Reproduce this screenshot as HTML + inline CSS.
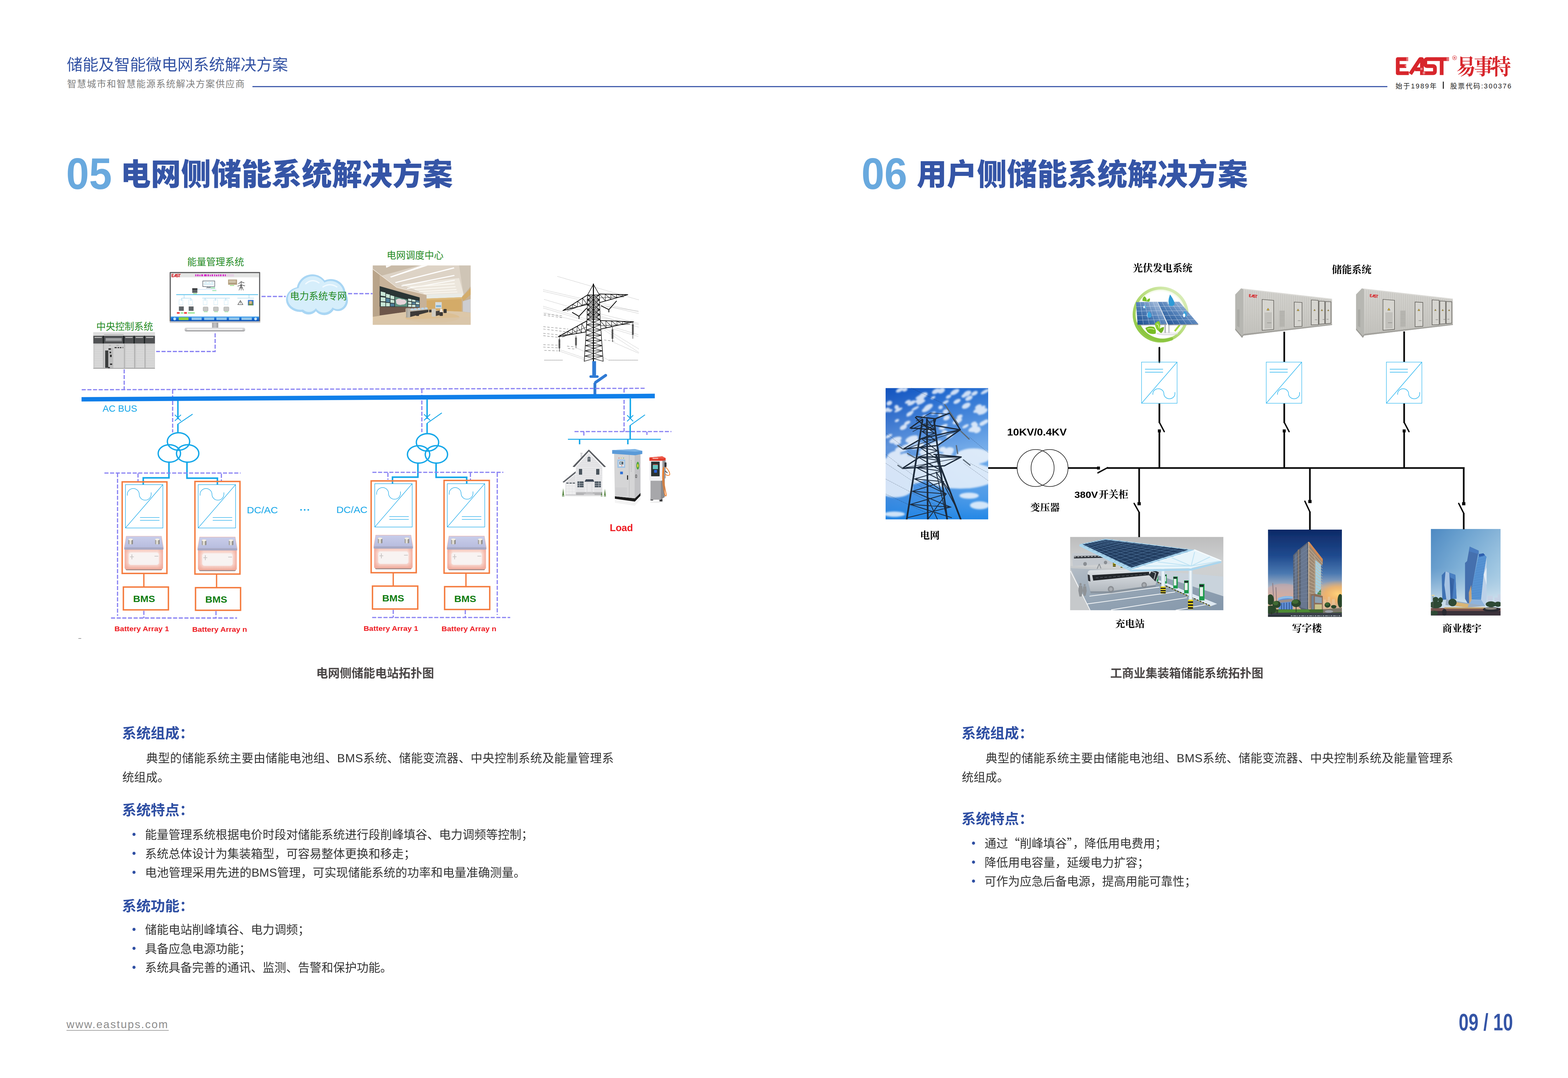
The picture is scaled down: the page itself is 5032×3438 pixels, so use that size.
<!DOCTYPE html>
<html lang="zh-CN"><head><meta charset="utf-8"><title>储能及智能微电网系统解决方案</title><style>html,body{margin:0;padding:0;background:#fff}
body{width:5032px;height:3438px;position:relative;overflow:hidden;font-family:"Liberation Sans",sans-serif}
#art{position:absolute;left:0;top:0}
.s{font-family:"Liberation Sans","Noto Sans CJK SC",sans-serif}
.sf{font-family:"Liberation Serif","Noto Serif CJK SC",serif}
.q{font-family:"Noto Sans CJK SC",sans-serif}
</style></head>
<body>
<svg id="art" width="5032" height="3438" viewBox="0 0 5032 3438">
<defs><linearGradient id="gBody" x1="0" y1="0" x2="0" y2="1"><stop offset="0" stop-color="#f6c3b6"/><stop offset=".25" stop-color="#fbe9e4"/><stop offset=".7" stop-color="#f9e6e1"/><stop offset="1" stop-color="#f0a999"/></linearGradient>
<linearGradient id="gBodyH" x1="0" y1="0" x2="1" y2="0"><stop offset="0" stop-color="#f3a898" stop-opacity=".9"/><stop offset=".14" stop-color="#f3a898" stop-opacity="0"/><stop offset=".86" stop-color="#f3a898" stop-opacity="0"/><stop offset="1" stop-color="#f3a898" stop-opacity=".9"/></linearGradient>
<linearGradient id="gLid" x1="0" y1="0" x2="0" y2="1"><stop offset="0" stop-color="#c9cdea"/><stop offset=".8" stop-color="#b9bedf"/><stop offset="1" stop-color="#a9a9c6"/></linearGradient>
<linearGradient id="gTerm" x1="0" y1="0" x2="1" y2="0"><stop offset="0" stop-color="#8d8a84"/><stop offset=".45" stop-color="#f4f1e8"/><stop offset="1" stop-color="#6f6c66"/></linearGradient>
<g id="bat">
<rect x="4" y="100" width="116" height="9" rx="4" fill="#7a5f5c" opacity=".75"/>
<rect x="1" y="40" width="122" height="66" rx="5" fill="url(#gBody)"/>
<rect x="1" y="40" width="122" height="66" rx="5" fill="url(#gBodyH)"/>
<rect x="14" y="52" width="96" height="40" rx="8" fill="#f7f5f4" opacity=".85"/>
<path d="M6 0H118L124 36V42H0V36z" fill="url(#gLid)" stroke="#f4b4a5" stroke-width="1.2"/>
<rect x="0" y="36" width="124" height="7" rx="2" fill="#a8a9c4"/>
<rect x="13" y="10" width="14" height="16" rx="2" fill="url(#gTerm)"/><ellipse cx="20" cy="10.5" rx="7" ry="3" fill="#f3efe4"/>
<rect x="98" y="10" width="14" height="16" rx="2" fill="url(#gTerm)"/><ellipse cx="105" cy="10.5" rx="7" ry="3" fill="#f3efe4"/>
<path d="M18 66h12M24 58v16M96 64h12" stroke="#c9c5c4" stroke-width="2.4" fill="none"/>
</g>
<linearGradient id="gNeck" x1="0" y1="0" x2="1" y2="0"><stop offset="0" stop-color="#a9a9ab"/><stop offset=".5" stop-color="#c4c4c6"/><stop offset="1" stop-color="#9a9a9c"/></linearGradient>
<linearGradient id="gBase" x1="0" y1="0" x2="0" y2="1"><stop offset="0" stop-color="#dcdcde"/><stop offset=".6" stop-color="#c8c8ca"/><stop offset="1" stop-color="#8e8e90"/></linearGradient>
<linearGradient id="gBar" x1="0" y1="0" x2="0" y2="1"><stop offset="0" stop-color="#3aa0ee"/><stop offset=".5" stop-color="#1667d0"/><stop offset="1" stop-color="#0e4fb0"/></linearGradient>
<filter id="blur4" x="-5%" y="-5%" width="110%" height="110%"><feGaussianBlur stdDeviation="5"/></filter>
<filter id="blur2" x="-5%" y="-5%" width="110%" height="110%"><feGaussianBlur stdDeviation="2.5"/></filter>
<filter id="blur8" x="-10%" y="-10%" width="120%" height="120%"><feGaussianBlur stdDeviation="9"/></filter>
<filter id="blur1" x="-5%" y="-5%" width="110%" height="110%"><feGaussianBlur stdDeviation="1.2"/></filter>
<linearGradient id="gSky1" x1="0" y1="0" x2="1" y2="0.3"><stop offset="0" stop-color="#0f4db8"/><stop offset=".5" stop-color="#2874d6"/><stop offset="1" stop-color="#4590e2"/></linearGradient>
<linearGradient id="gSky1b" x1="0" y1="0" x2="0" y2="1"><stop offset="0" stop-color="#1457c4" stop-opacity=".5"/><stop offset=".45" stop-color="#9cc4f0" stop-opacity=".55"/><stop offset=".72" stop-color="#6fb0ee" stop-opacity=".5"/><stop offset="1" stop-color="#1f86e6" stop-opacity=".9"/></linearGradient>
<linearGradient id="gChgBg" x1="0" y1="0" x2="0" y2="1"><stop offset="0" stop-color="#bdbdbd"/><stop offset=".35" stop-color="#cfd1d2"/><stop offset="1" stop-color="#c9cccd"/></linearGradient>
<linearGradient id="gChgFloor" x1="0" y1="0" x2="1" y2="1"><stop offset="0" stop-color="#b3bcc5"/><stop offset=".5" stop-color="#93a3b3"/><stop offset="1" stop-color="#8497ab"/></linearGradient>
<linearGradient id="gBus" x1="0" y1="0" x2="0" y2="1"><stop offset="0" stop-color="#dfe3e6"/><stop offset=".5" stop-color="#c9ced3"/><stop offset="1" stop-color="#b2b8be"/></linearGradient>
<linearGradient id="gCol" x1="0" y1="0" x2="1" y2="0"><stop offset="0" stop-color="#c9dbe8"/><stop offset=".5" stop-color="#f6fafc"/><stop offset="1" stop-color="#bccfdd"/></linearGradient>
<linearGradient id="gOffSky" x1="0" y1="0" x2="0" y2="1"><stop offset="0" stop-color="#0d2966"/><stop offset=".3" stop-color="#1f4a8e"/><stop offset=".5" stop-color="#4a78b0"/><stop offset=".66" stop-color="#a9b4c4"/><stop offset=".8" stop-color="#d9b9a0"/><stop offset="1" stop-color="#c9a080"/></linearGradient>
<radialGradient id="gSun" cx=".5" cy=".5" r=".5"><stop offset="0" stop-color="#ffd27a"/><stop offset=".5" stop-color="#f7b25e" stop-opacity=".8"/><stop offset="1" stop-color="#f0a050" stop-opacity="0"/></radialGradient>
<linearGradient id="gComSky" x1="0" y1="0" x2="1" y2="0"><stop offset="0" stop-color="#4d89c2"/><stop offset=".5" stop-color="#7aaed6"/><stop offset="1" stop-color="#a6cbe4"/></linearGradient>
<linearGradient id="gComSky2" x1="0" y1="0" x2="0" y2="1"><stop offset="0" stop-color="#4d89c2" stop-opacity=".35"/><stop offset=".45" stop-color="#9cc4e0" stop-opacity=".3"/><stop offset=".85" stop-color="#dbe8f0" stop-opacity=".85"/><stop offset="1" stop-color="#dbe8f0" stop-opacity=".9"/></linearGradient>
<radialGradient id="gPvGlow" cx=".5" cy=".5" r=".5"><stop offset="0" stop-color="#fff"/><stop offset=".8" stop-color="#fff"/><stop offset=".93" stop-color="#e3f2c8"/><stop offset="1" stop-color="#fff" stop-opacity="0"/></radialGradient>
<linearGradient id="gRing" x1="0" y1="1" x2="1" y2="0"><stop offset="0" stop-color="#86c33a"/><stop offset=".5" stop-color="#b7dc7a"/><stop offset="1" stop-color="#e4f2cc"/></linearGradient>
<linearGradient id="gPanel" x1="0" y1="1" x2="1" y2="0"><stop offset="0" stop-color="#17498a"/><stop offset=".45" stop-color="#4f7db6"/><stop offset="1" stop-color="#c9d6ea"/></linearGradient>
<linearGradient id="gCont" x1="0" y1="0" x2="0" y2="1"><stop offset="0" stop-color="#d3d2ce"/><stop offset=".5" stop-color="#cccbc6"/><stop offset="1" stop-color="#c2c1bc"/></linearGradient>
</defs>
<text class="s" x="213" y="223.5" font-size="50.4" fill="#3453a4">储能及智能微电网系统解决方案</text>
<text class="s" x="214" y="277.6" font-size="29.6" letter-spacing="1.95" fill="#808080">智慧城市和智慧能源系统解决方案供应商</text>
<rect x="805" y="274.5" width="3619" height="3.5" fill="#3a55a8"/>
<g transform="translate(4430 160) scale(0.18072)"><g id="east" fill="none" stroke="#d7262c" stroke-width="66" stroke-linejoin="round" stroke-linecap="butt"><path d="M335 158H150V407H345M150 281H300"/><path d="M372 420L545 158H577V440M455 338H577" stroke-linecap="butt"/><path d="M830 158H672Q636 158 636 192V248Q636 281 672 281H770Q806 281 806 314V374Q806 407 770 407H612"/><path d="M826 158H1055M925 158V440"/></g><path d="M300 137h60m-60 14h60m-60 14h60m-60 14h60M275 262h40m-40 13h40m-40 13h40M590 388h44m-44 13h44m-44 13h44M1010 137h60m-60 14h60m-60 14h60m-60 14h60M548 318h40m-40 13h40m-40 13h40" stroke="#fff" stroke-width="5" fill="none"/><rect x="100" y="441" width="900" height="40" fill="#fff"/></g>
<circle cx="4638.2" cy="184.4" r="6.6" fill="none" stroke="#d7262c" stroke-width="1.1"/>
<text class="s" x="4634.9" y="187.9" font-size="9.5" font-weight="bold" fill="#d7262c">R</text>
<text class="sf" transform="translate(4644 237.5) scale(0.9 1)" font-size="69" font-weight="bold" letter-spacing="-6.7" fill="#d7262c">易事特</text>
<text class="s" x="4450" y="282" font-size="21.6" letter-spacing="3" fill="#222">始于1989年</text>
<rect x="4600.8" y="260.3" width="3.2" height="22.8" fill="#222"/>
<text class="s" x="4624.5" y="282" font-size="21.6" letter-spacing="3" fill="#222">股票代码:300376</text>
<text class="s" transform="translate(211 603) scale(0.9298 1)" font-size="141" font-weight="bold" fill="#69a9de">05</text>
<text class="s" x="384.5" y="589.5" font-size="96.3" font-weight="900" fill="#3555a6">电网侧储能系统解决方案</text>
<text class="s" transform="translate(2747 603) scale(0.9298 1)" font-size="141" font-weight="bold" fill="#69a9de">06</text>
<text class="s" x="2923" y="589.5" font-size="96" font-weight="900" fill="#3555a6">用户侧储能系统解决方案</text>
<text class="s" x="212" y="3279" font-size="35" letter-spacing="2.9" fill="#8c8c8c">www.eastups.com</text>
<rect x="212" y="3285.2" width="326" height="1.8" fill="#8c8c8c"/>
<text class="s" x="4651.5" y="3286" font-size="76" font-weight="bold" textLength="173" lengthAdjust="spacingAndGlyphs" fill="#3555a6">09 / 10</text>
<g id="monitor">
<rect x="676" y="1028" width="20" height="20" fill="url(#gNeck)"/>
<rect x="588.6" y="1045" width="193.2" height="12" rx="5" fill="url(#gBase)"/>
<rect x="596" y="1048.5" width="178" height="4" rx="2" fill="#f4f4f4"/>
<rect x="541" y="867.6" width="288.6" height="161.6" rx="1.5" fill="#5a5a5c"/>
<rect x="541" y="1024.5" width="288.6" height="4.7" fill="#c9c9cb"/>
<rect x="544.6" y="871" width="281.6" height="153.5" fill="#fff"/>
<rect x="544.6" y="871" width="281.6" height="13.5" fill="#e4e5e4"/>
<g transform="translate(543.5 869.5) scale(0.031 0.033)"><use href="#east"/></g>
<rect x="620" y="874.2" width="126" height="7.6" fill="#e33bd8" opacity=".12"/>
<path d="M623 875h3v6h-3zm6 0h4v6h-4zm7 1h3v5h-3zm6-1h5v6h-5zm9 0h8v6h-8zm11 0h4v6h-4zm7 1h3v5h-3zm6-1h4v6h-4zm8 0h3v6h-3zm6 1h4v5h-4zm7-1h3v6h-3zm6 0h4v6h-4zm8 0h4v6h-4zm7 0h3v6h-3z" fill="#d21cc6"/>
<rect x="544.600" y="1009.600" width="281.600" height="15" fill="url(#gBar)"/>
<g fill="#8ed13c"><rect x="570" y="1012" width="31" height="9" /></g>
<g fill="#9fd0ee" opacity=".9"><rect x="611" y="1012.500" width="32" height="8"/><rect x="651" y="1012.500" width="32" height="8"/><rect x="690" y="1012.500" width="33" height="8"/><rect x="730" y="1012.500" width="33" height="8"/><rect x="770" y="1012.500" width="33" height="8"/></g>
<circle cx="557" cy="1017" r="4.500" fill="#bfe1f6"/><circle cx="815" cy="1017" r="4.500" fill="#bfe1f6"/>
<path d="M562 939.300H823" stroke="#2fb1e6" stroke-width="1.800"/><path d="M562 941.200H823" stroke="#a5dcf2" stroke-width="1"/>
<path d="M645 950.700H733M757 950.700H810" stroke="#9fd4ee" stroke-width="1.400"/>
<path d="M587 939v12M579 951h30M579 951v8M609 951v8M654 951v8M687 951v8M720 951v8M794 939v12" stroke="#7cc6ea" stroke-width="1.200" fill="none"/>
<g fill="none" stroke="#c4e6f4" stroke-width="1.1"><rect x="571" y="956" width="12" height="16"/><rect x="602" y="956" width="12" height="16"/><rect x="648" y="956" width="12" height="16"/><rect x="682" y="956" width="12" height="16"/><rect x="715" y="956" width="12" height="16"/></g>
<rect x="646.700" y="896" width="38" height="18" fill="#fff" stroke="#4d5a66" stroke-width="1.600"/><path d="M650 906h31M652 901h8m4 0h6m3 0h7" stroke="#59b7d8" stroke-width="1.200"/><path d="M662 914v3h8v-3M657 918h18" stroke="#67737e" stroke-width="1.500" fill="none"/>
<path d="M630 923H690" stroke="#9fc7f0" stroke-width="1.200"/><rect x="672" y="917" width="14" height="2.500" fill="#68d38b"/><rect x="677" y="926" width="13" height="2" fill="#7ddc9a"/>
<rect x="727.400" y="891.500" width="28.400" height="16.500" fill="#b39f7f"/><rect x="730" y="894" width="22" height="8" fill="#cfc3ab"/><rect x="733" y="909.500" width="14" height="2" fill="#84da6a"/>
<path d="M769 896v30M760 905l9-6 10 3M758 913l11-5 12 4M762 926l7-18 7 18M764 918h10" stroke="#3c3c3c" stroke-width="1.400" fill="none"/><path d="M756 906l26-4M755 912l28-3" stroke="#999" stroke-width=".8" stroke-dasharray="2 1.500"/>
<rect x="613" y="919.600" width="16.400" height="14.400" fill="#5d6165"/><rect x="613" y="919.600" width="16.400" height="4" fill="#2e3033"/><rect x="616" y="935.500" width="12" height="2" fill="#7ddc6a"/>
<rect x="570.500" y="977.400" width="15.500" height="14" fill="#5f6468"/><rect x="601.700" y="977.400" width="15.600" height="14" fill="#5f6468"/>
<g fill="#c7c8c6" stroke="#9a9b99" stroke-width="1"><rect x="647.800" y="979" width="15.600" height="13" rx="2"/><rect x="680.700" y="979" width="15.500" height="13" rx="2"/><rect x="713.600" y="979" width="16.300" height="13" rx="2"/></g>
<path d="M650 994.500h12m21 0h12m21 0h12" stroke="#77dd77" stroke-width="1.400"/>
<path d="M564 998h9m14 0h9" stroke="#ee3b3b" stroke-width="5"/><path d="M576 998h9m14 0h22" stroke="#7be07b" stroke-width="4" opacity=".8"/>
<path d="M766.500 958.500l8 13h-16z" fill="#fff" stroke="#4a4a4a" stroke-width="1.500"/><path d="M766.500 962v6" stroke="#4a4a4a" stroke-width="1.500"/>
<rect x="790.500" y="956.600" width="18" height="17.400" fill="#3b77d8"/><rect x="792.500" y="962" width="14" height="12" fill="#6a8f4e"/><rect x="795" y="960" width="8" height="9" fill="#d9b48a"/>
</g>
<g transform="translate(285 1050) scale(0.0968)"><g filter="url(#blur4)">
<rect x="130" y="100" width="2030" height="1200" fill="#cdcdcd"/>
<rect x="130" y="100" width="2030" height="120" fill="#dedede"/><rect x="480" y="160" width="650" height="30" fill="#b9b9b9"/>
<rect x="130" y="215" width="2030" height="255" fill="#505153"/>
<g fill="#1f2022"><rect x="440" y="215" width="40" height="255"/><rect x="1110" y="215" width="45" height="255"/><rect x="1455" y="215" width="40" height="255"/><rect x="1795" y="215" width="40" height="255"/></g>
<rect x="530" y="290" width="540" height="110" fill="#8b8d8f"/><rect x="545" y="300" width="510" height="60" fill="#a3a5a6"/>
<g fill="#c9c9c9"><rect x="170" y="255" width="240" height="30"/><rect x="1185" y="255" width="240" height="30"/><rect x="1525" y="255" width="240" height="30"/><rect x="1865" y="255" width="240" height="30"/></g>
<g fill="#d9d9d9"><rect x="175" y="520" width="260" height="740"/><rect x="1200" y="520" width="260" height="740"/><rect x="1540" y="520" width="265" height="740"/><rect x="1870" y="520" width="270" height="740"/></g>
<path d="M155 560H435M155 618H435M155 676H435M155 734H435M155 792H435M155 850H435M155 908H435M155 966H435M155 1024H435M155 1082H435M155 1140H435M155 1198H435M155 1256H435M1170 560H1455M1170 618H1455M1170 676H1455M1170 734H1455M1170 792H1455M1170 850H1455M1170 908H1455M1170 966H1455M1170 1024H1455M1170 1082H1455M1170 1140H1455M1170 1198H1455M1170 1256H1455M1505 560H1795M1505 618H1795M1505 676H1795M1505 734H1795M1505 792H1795M1505 850H1795M1505 908H1795M1505 966H1795M1505 1024H1795M1505 1082H1795M1505 1140H1795M1505 1198H1795M1505 1256H1795M1845 560H2135M1845 618H2135M1845 676H2135M1845 734H2135M1845 792H2135M1845 850H2135M1845 908H2135M1845 966H2135M1845 1024H2135M1845 1082H2135M1845 1140H2135M1845 1198H2135M1845 1256H2135" stroke="#c6c6c6" stroke-width="10" fill="none"/>
<g fill="#a9a9a9"><rect x="455" y="470" width="22" height="830"/><rect x="1140" y="470" width="24" height="830"/><rect x="1480" y="470" width="24" height="830"/><rect x="1820" y="470" width="24" height="830"/></g>
<rect x="480" y="480" width="660" height="810" fill="#cfcfcf"/>
<rect x="800" y="640" width="330" height="640" fill="#d3d3d3"/>
<rect x="520" y="700" width="105" height="570" fill="#3b3c3e"/>
<rect x="625" y="620" width="160" height="660" fill="#bdbdbd"/>
<g fill="#2a2a2c"><rect x="630" y="630" width="80" height="45"/><rect x="665" y="740" width="50" height="50"/><rect x="680" y="840" width="55" height="75"/><rect x="680" y="1130" width="70" height="45"/><rect x="615" y="1245" width="60" height="35"/><rect x="830" y="590" width="70" height="32"/><rect x="930" y="590" width="50" height="32"/><rect x="1005" y="590" width="50" height="32"/><rect x="1095" y="585" width="18" height="38"/></g>
<path d="M640 530h70m180 0h80" stroke="#8f8f8f" stroke-width="14"/>
<rect x="130" y="1280" width="2030" height="22" fill="#9a9a9a"/>
</g></g>
<g id="cloud">
<g fill="#a9d6f4"><ellipse cx="958" cy="955" rx="46" ry="40"/><circle cx="996" cy="925" r="50"/><circle cx="1055" cy="937" r="47"/><ellipse cx="1078" cy="958" rx="31.500" ry="34"/><circle cx="1034" cy="970" r="35"/><circle cx="984" cy="972" r="31"/></g>
<g fill="#d6eefb"><ellipse cx="959" cy="953" rx="41" ry="35"/><circle cx="997" cy="926" r="45"/><circle cx="1054" cy="938" r="42"/><ellipse cx="1076" cy="957" rx="27" ry="29"/><circle cx="1033" cy="966" r="31"/><circle cx="985" cy="968" r="27"/><rect x="950" y="925" width="120" height="50"/></g>
<path d="M975 905q20-18 42-3M1030 915q22-14 44 0" stroke="#f2faff" stroke-width="4" fill="none" stroke-linecap="round"/>
</g>
<g transform="translate(1180 840) scale(0.142)"><g filter="url(#blur4)">
<rect x="62" y="48" width="2196" height="1330" fill="#d8c4a6"/>
<path d="M62 48H2258V720L1270 720L600 560L62 150z" fill="#ddd3c6"/>
<path d="M62 48H1100L62 330z" fill="#c9bba8"/>
<path d="M700 470L2000 330L2100 690L1270 700z" fill="#ece6dc"/>
<path d="M2000 48H2258V700H2100z" fill="#cfc5b6"/>
<path d="M62 130L600 540L1270 705V1010L800 1015L62 1200z" fill="#c7b299"/>
<path d="M62 130L215 250V1180L62 1200z" fill="#b9a48a"/>
<path d="M62 130L600 540L1270 705" stroke="#efe6da" stroke-width="14" fill="none"/>
<g fill="#fff"><path d="M450 298L1160 48H1300L470 318z"/><path d="M560 422L1880 88L1895 112L580 442z"/><path d="M700 498L1890 258L1900 282L710 517z"/><path d="M830 558L1900 368L1905 386L835 574z"/><path d="M355 48H480L365 100z"/></g>
<g fill="#fbf8f2" opacity=".9"><path d="M900 520L1900 440L1900 470L905 545z"/><path d="M1000 575L1920 510V535L1005 598z"/><path d="M1100 625L1940 575V598L1105 646z"/><path d="M1200 665L1960 630V650L1205 684z"/></g>
<path d="M1270 700L2100 680L2060 765L1270 795z" fill="#e9ebe6"/>
<path d="M1270 790L2060 760V1085L1270 1050z" fill="#d4ab68"/>
<path d="M1270 790L2060 760V800L1270 830z" fill="#dcb878"/>
<path d="M2060 760L2258 520V1110L2060 1085z" fill="#c8b294"/>
<path d="M2060 760L2258 560V700L2090 850z" fill="#d3ad6c"/>
<path d="M2085 850L2258 800V1105L2085 1085z" fill="#cdcdd0"/>
<path d="M215 510L1115 765V985L215 975z" fill="#2c3534"/>
<g fill="#c7e6d6"><path d="M240 630L345 655V740L240 725z"/><path d="M240 755L345 770V855L240 850z"/><path d="M240 870L345 878V965L240 965z"/><path d="M358 680L445 700V780L358 765z"/><path d="M358 885L445 890V965H358z"/><path d="M458 715L545 738V810L458 795z"/><path d="M458 810L545 825V890L458 882z"/></g>
<g fill="#4f7f9a"><path d="M358 780L445 795V875L358 870z"/><path d="M458 900L545 905V965H458z"/></g>
<path d="M560 745L840 815V972L560 968z" fill="#5f9381"/>
<path d="M580 820Q650 770 720 810Q790 800 820 860Q800 930 720 925Q650 950 590 900z" fill="#e6d5da"/>
<g fill="#cfe9dd"><path d="M855 790L930 805V850L855 842z"/><path d="M855 860L930 868V915L855 910z"/><path d="M855 925L930 928V975H855z"/><path d="M942 810L1020 825V862L942 855z"/><path d="M942 930L1020 932V978H942z"/><path d="M1030 870L1105 880V920L1030 915z"/></g>
<g fill="#54809a"><path d="M942 868L1020 875V920L942 917z"/><path d="M1030 830L1105 843V870L1030 862z"/><path d="M1030 930L1105 932V978H1030z"/></g>
<path d="M215 975L1115 985V1010L800 1015V1090L215 1170z" fill="#6d574a"/>
<path d="M62 1200L800 1090V1015L1270 1010V1050L2060 1085L2258 1110V1378H62z" fill="#dcc7a8"/>
<ellipse cx="1400" cy="1215" rx="610" ry="120" fill="#dcbf93"/>
<path d="M62 1290L2258 1200V1378H62z" fill="#d9c6ab" opacity=".7"/>
<rect x="1465" y="870" width="145" height="140" fill="#d5dde0"/><rect x="1480" y="940" width="115" height="40" fill="#7fb2d6"/>
<path d="M900 1075L1310 1032V1095L900 1205z" fill="#3d3a37"/><path d="M900 1060L1310 1020V1040L900 1085z" fill="#b9b1a3"/>
<g fill="#bcd6ea"><rect x="915" y="1010" width="60" height="45"/><rect x="990" y="1005" width="60" height="45"/><rect x="1070" y="1000" width="60" height="42"/><rect x="1150" y="995" width="60" height="40"/><rect x="1230" y="990" width="60" height="38"/></g>
<rect x="810" y="1005" width="92" height="212" rx="8" fill="#b9b5ab"/><rect x="810" y="1005" width="30" height="212" rx="8" fill="#a6a298"/>
<rect x="1385" y="1020" width="92" height="178" rx="8" fill="#cfcbc2"/>
<path d="M1477 1072L1562 1060V1160L1477 1182z" fill="#44403c"/>
<g fill="#3a3836"><rect x="1035" y="1105" width="65" height="75" rx="10"/><rect x="1560" y="1095" width="75" height="85" rx="12"/><rect x="1650" y="1025" width="70" height="90" rx="12"/><rect x="1325" y="1040" width="55" height="60" rx="8"/></g>
<g fill="#f5ece0"><rect x="1575" y="1020" width="45" height="70" rx="8"/></g>
</g></g>
<g transform="translate(1600 850) scale(0.30224)" fill="none" stroke-linecap="round"><path d="M590 105L1445 352M440 245L1445 478M440 262L1445 496M450 348L1445 640M440 420L1445 720M440 438L1445 740M445 485L900 600M1040 500L1445 600M1050 540L1445 612M600 890L880 985M620 880L900 975M1070 640L1445 870M1080 670L1445 905M1180 800L1445 915M790 860L880 900M1075 960L1130 990M1100 420L1445 470" stroke="#8a8a8a" stroke-width="3" stroke-dasharray="5 9"/><path d="M440 635L700 660M440 660L690 690M440 705L640 725M440 730L600 748M440 825L600 830M440 850L590 858M450 885L590 890M445 500L640 520M445 515L640 540M1080 775L1200 790M690 840L770 848M700 865L770 870" stroke="#777" stroke-width="4" stroke-dasharray="22 20"/><path d="M905 300L1032 352M1030 300L904 352M905 300H1030M904 352L1033 404M1032 352L903 404M904 352H1032M903 404L1035 456M1033 404L902 456M903 404H1033M902 456L1036 508M1035 456L901 508M902 456H1035M901 508L1038 560M1036 508L900 560M901 508H1036M900 560L1042 615M1038 560L896 615M900 560H1038M896 615L1046 670M1042 615L892 670M896 615H1042M892 670L1050 725M1046 670L889 725M892 670H1046M889 725L1054 780M1050 725L885 780M889 725H1050M885 780L1058 835M1054 780L881 835M885 780H1054M881 835L1062 890M1058 835L878 890M881 835H1058M878 890L1066 945M1062 890L874 945M878 890H1062M874 945L1070 1000M1066 945L870 1000M874 945H1066M905 300L967 352M967 300L904 352M905 300H967M904 352L967 404M967 352L903 404M904 352H967M903 404L967 456M967 404L902 456M903 404H967M902 456L967 508M967 456L901 508M902 456H967M901 508L967 560M967 508L900 560M901 508H967M967 300L1032 352M1030 300L967 352M967 300H1030M967 352L1033 404M1032 352L967 404M967 352H1032M967 404L1035 456M1033 404L967 456M967 404H1033M967 456L1036 508M1035 456L967 508M967 456H1035M967 508L1038 560M1036 508L967 560M967 508H1036" stroke="#111" stroke-width="5"/><path d="M905 300L900 560L870 1000M1030 300L1038 560L1070 1000M967 188L905 300M967 188L1030 300M905 300H1030" stroke="#111" stroke-width="6"/><path d="M967 185V1000" stroke="#000" stroke-width="11"/><path d="M645 465L905 300M645 465L900 400M645 465L696 452L697 432M697 432L747 439L749 399M749 399L798 426L801 366M801 366L849 413L853 333M853 333L900 400L905 300M1030 290L1330 297M1035 380L1330 297M1030 290L1094 363L1090 291M1090 291L1153 347L1150 293M1150 293L1212 330L1210 294M1210 294L1271 314L1270 296M1270 296L1330 297L1330 297M597 740L895 575M597 740L890 690M597 740L646 732L647 712M647 712L695 723L696 685M696 685L744 715L746 658M746 658L792 707L796 630M796 630L841 698L845 602M845 602L890 690L895 575M1038 570L1390 583M1045 660L1390 583M1038 570L1102 647L1097 572M1097 572L1160 634L1155 574M1155 574L1218 622L1214 576M1214 576L1275 609L1273 579M1273 579L1332 596L1331 581M1331 581L1390 583L1390 583" stroke="#111" stroke-width="4.5"/><path d="M645 465L905 300M1030 290L1330 297M597 740L895 575M1038 570L1390 583M645 465L900 400M1035 380L1330 297M597 740L890 690M1045 660L1390 583" stroke="#000" stroke-width="7"/><path d="M690 470L905 385M1040 330L1290 320M640 745L890 640M1040 625L1350 610" stroke="#222" stroke-width="4"/><path d="M745 485L815 525L895 440M1050 415L1130 455L1210 365M815 525V550M1130 455V480" stroke="#000" stroke-width="8"/><path d="M608 745V895M783 730V860M1168 640V795M1383 590V760" stroke="#000" stroke-width="4"/><path d="M608 770V862M783 752V832M1168 665V760M1383 612V722" stroke="#111" stroke-width="20" stroke-dasharray="6 5" stroke-linecap="butt"/><path d="M450 988H640M1130 988H1435" stroke="#bdbdbd" stroke-width="8" stroke-dasharray="14 6"/></g>
<g fill="none" stroke="#2f7ad4" stroke-linecap="round"><path d="M1894.6 1152V1198" stroke-width="12" stroke-linecap="butt"/><path d="M1883.5 1201H1905" stroke-width="8"/><path d="M1931.5 1197L1899 1219.5" stroke-width="9"/><path d="M1897 1221V1258" stroke-width="9" stroke-linecap="butt"/></g>
<g transform="translate(1780 1420) scale(0.16351)"><g filter="url(#blur2)">
<rect x="435" y="150" width="36" height="90" fill="#dcdcde"/><rect x="430" y="148" width="46" height="12" fill="#c9c9cb"/>
<path d="M140 720L340 560V970H140z" fill="#e3e3e5"/>
<path d="M598 135L875 420H860V915H345V420H325z" fill="#e7e7e9"/>
<path d="M345 455H860M345 489H860M345 523H860M345 557H860M345 591H860M345 625H860M345 659H860M345 693H860M345 727H860M345 761H860M345 795H860M345 829H860M345 863H860M345 897H860M541 200H655M508 234H687M476 268H719M444 302H751M411 336H784M379 370H816M347 404H848" stroke="#cdcdd1" stroke-width="5" fill="none"/>
<path d="M145 600H340M145 634H340M145 668H340M145 702H340M145 736H340M145 770H340M145 804H340M145 838H340M145 872H340M145 906H340M145 940H340" stroke="#d0d0d4" stroke-width="4" fill="none"/>
<path d="M598 82L932 420L895 426L598 122L318 426L280 418z" fill="#5a5d62"/>
<path d="M598 122L895 426L868 432L598 150L340 432L318 426z" fill="#f4f4f5"/>
<path d="M85 715L340 508V545L110 730z" fill="#5f6267"/><path d="M110 730L340 545V562L135 732z" fill="#f2f2f3"/>
<path d="M573 320V245Q600 195 628 245V320z" fill="#4c555c"/><path d="M600 215V320M573 265H628" stroke="#dfe2e4" stroke-width="5"/>
<g fill="#48525b"><rect x="403" y="460" width="66" height="115"/><rect x="738" y="460" width="67" height="115"/></g>
<g fill="none" stroke="#f3f3f4" stroke-width="7"><rect x="400" y="457" width="72" height="121"/><rect x="735" y="457" width="73" height="121"/></g>
<g fill="#4d5963"><rect x="375" y="705" width="120" height="115"/><rect x="712" y="705" width="120" height="115"/></g>
<path d="M375 745H495M375 783H495M415 705V820M712 745H832M712 783H832M792 705V820" stroke="#eef0f2" stroke-width="6"/>
<path d="M540 665H680L706 713H512z" fill="#3c4756"/><path d="M512 713H706V722H512z" fill="#e9e9eb"/>
<path d="M530 722V910M690 722V910" stroke="#f5f5f6" stroke-width="9"/>
<rect x="572" y="742" width="68" height="168" fill="#ebebed" stroke="#cfcfd2" stroke-width="4"/><path d="M606 742V910" stroke="#cfcfd2" stroke-width="3"/>
<rect x="150" y="742" width="185" height="220" fill="#eeeeef" stroke="#d3d3d6" stroke-width="4"/>
<path d="M150 795H335M150 850H335M150 905H335M212 742V962M274 742V962" stroke="#dadadd" stroke-width="4"/>
<g fill="#4b535b"><rect x="158" y="730" width="45" height="17" rx="3"/><rect x="220" y="730" width="45" height="17" rx="3"/><rect x="282" y="730" width="45" height="17" rx="3"/></g>
<rect x="345" y="915" width="515" height="60" fill="#b4b4b6"/><rect x="500" y="945" width="210" height="30" fill="#cfcfd1"/><rect x="535" y="920" width="140" height="22" fill="#c4c4c6"/>
<rect x="140" y="962" width="205" height="13" fill="#bdbdbf"/>
<g fill="#5f8c4c"><path d="M97 838L120 1000H74z"/><path d="M846 905L864 1000H828z"/><path d="M911 848L932 1000H890z"/></g>
<ellipse cx="500" cy="985" rx="440" ry="12" fill="#e4e4e4"/>
</g><g filter="url(#blur2)">
<path d="M1105 1045L1495 1100L1605 985V930L1495 1035L1105 995z" fill="#1d1d1f"/>
<path d="M1090 165L1495 190V1035L1105 995z" fill="#d5d5d6"/>
<path d="M1495 190L1605 165V930L1495 1035z" fill="#c2c2c5"/>
<path d="M1385 185V1022" stroke="#a9a9ac" stroke-width="5"/><path d="M1495 190V1035" stroke="#b0b0b3" stroke-width="4"/>
<path d="M1052 95L1500 75L1640 110V170L1500 195L1052 165z" fill="#5a9ad8"/><path d="M1052 95L1500 75L1640 110L1500 125z" fill="#7db4e6"/>
<rect x="1155" y="280" width="150" height="160" fill="#9cc3e8"/><rect x="1180" y="305" width="105" height="110" fill="#e3e6e8"/><rect x="1195" y="320" width="75" height="55" fill="#55616b"/><rect x="1205" y="330" width="30" height="35" fill="#b8d8e6"/><circle cx="1240" cy="400" r="9" fill="#d9534a"/>
<circle cx="1185" cy="250" r="8" fill="#d9534a"/><circle cx="1230" cy="250" r="8" fill="#e3c44a"/><circle cx="1275" cy="250" r="8" fill="#6fb65a"/>
<rect x="1208" y="515" width="54" height="50" fill="#2f6fd6"/>
<rect x="1343" y="585" width="19" height="88" rx="5" fill="#1c1c1e"/>
<path d="M1115 835H1340M1115 858H1340M1115 881H1340M1115 904H1340M1115 927H1340M1115 950H1340M1115 973H1340" stroke="#bdbdc0" stroke-width="5"/>
<path d="M1425 290V520" stroke="#bcbcbf" stroke-width="14" stroke-dasharray="26 14"/>
<ellipse cx="1552" cy="398" rx="28" ry="75" fill="#4ea53c"/><ellipse cx="1552" cy="398" rx="13" ry="34" fill="#f0d63a"/>
<rect x="1508" y="575" width="24" height="58" rx="6" fill="none" stroke="#2a2a2c" stroke-width="7"/>
<path d="M1105 1060L1495 1115L1605 1000V1060L1495 1180L1105 1120z" fill="#efefef" opacity=".7"/>
</g><g filter="url(#blur2)">
<rect x="1800" y="1035" width="52" height="42" fill="#3a3a3c"/><rect x="1975" y="1050" width="58" height="46" fill="#3a3a3c"/>
<path d="M2000 690L2078 648V1010L2000 1062z" fill="#8a8a8d"/>
<rect x="1800" y="680" width="202" height="382" fill="#a7a7aa"/>
<path d="M2030 300L2095 288V640L2030 690z" fill="#98989b"/>
<rect x="1778" y="285" width="254" height="408" rx="22" fill="#f1f1f3"/>
<path d="M1778 238L2030 215L2095 250V292L2030 302H1778z" fill="#e33b2c"/><path d="M1778 238L2030 215L2095 250L2030 262z" fill="#ee5a48"/>
<rect x="1840" y="245" width="110" height="22" fill="#f6c9c2" opacity=".8"/>
<rect x="1812" y="320" width="166" height="285" rx="6" fill="#2b3331"/>
<rect x="1845" y="385" width="100" height="80" fill="#63c5c0"/><rect x="1850" y="372" width="90" height="12" fill="#d9534a"/>
<rect x="1870" y="480" width="56" height="56" rx="8" fill="#2a62d8"/>
<path d="M2060 420C2035 650 2075 800 2105 950C2115 1000 2085 1005 2078 955C2050 820 2020 680 2045 440" fill="none" stroke="#f07a22" stroke-width="15"/>
<path d="M2095 430C2150 470 2190 560 2170 580C2140 600 2100 580 2085 560" fill="none" stroke="#f07a22" stroke-width="14"/>
<rect x="2072" y="335" width="40" height="90" rx="10" fill="#333336"/>
<path d="M2085 500L2130 540" stroke="#2f2f32" stroke-width="14"/>
<ellipse cx="1920" cy="1110" rx="130" ry="14" fill="#ececec"/>
</g></g>
<path d="M686 1063V1121H498" fill="none" stroke="#8a83f3" stroke-width="3.8" stroke-dasharray="13 5"/>
<path d="M396 1178V1243" fill="none" stroke="#8a83f3" stroke-width="3.8" stroke-dasharray="13 5"/>
<path d="M260.6 1243L2058.8 1238.4" fill="none" stroke="#8a83f3" stroke-width="3.8" stroke-dasharray="13 5"/>
<path d="M834 945.5H911" fill="none" stroke="#8a83f3" stroke-width="3.8" stroke-dasharray="13 5"/>
<path d="M1110 936.5H1188" fill="none" stroke="#8a83f3" stroke-width="3.8" stroke-dasharray="13 5"/>
<path d="M550.5 1243V1379" fill="none" stroke="#8a83f3" stroke-width="3.8" stroke-dasharray="13 5"/>
<path d="M1345.2 1241V1378" fill="none" stroke="#8a83f3" stroke-width="3.8" stroke-dasharray="13 5"/>
<path d="M1990 1239V1376.4" fill="none" stroke="#8a83f3" stroke-width="3.8" stroke-dasharray="13 5"/>
<path d="M260 1266.4L2088 1255.6V1270.2L260 1280.4z" fill="#107fe9"/>
<text class="s" x="327" y="1313" font-size="29.6" fill="#14a7e9">AC BUS</text>
<path d="M567.3 1278V1337" fill="none" stroke="#14a7e9" stroke-width="4.6" stroke-linecap="butt" stroke-linejoin="miter"/>
<path d="M558.3 1323.7l18 18m0-18l-18 18" fill="none" stroke="#14a7e9" stroke-width="2.6" stroke-linecap="round" stroke-linejoin="miter"/>
<path d="M613.4 1321.3L567.3 1352.5" fill="none" stroke="#14a7e9" stroke-width="2.6" stroke-linecap="round" stroke-linejoin="miter"/>
<path d="M567.3 1352.5V1380" fill="none" stroke="#14a7e9" stroke-width="4.6" stroke-linecap="butt" stroke-linejoin="miter"/>
<ellipse cx="569.2" cy="1408.0" rx="35.6" ry="27.8" fill="none" stroke="#14a7e9" stroke-width="4.3"/>
<ellipse cx="540.0" cy="1446.2" rx="35.6" ry="27.8" fill="none" stroke="#14a7e9" stroke-width="4.3"/>
<ellipse cx="598.4" cy="1446.2" rx="35.6" ry="27.8" fill="none" stroke="#14a7e9" stroke-width="4.3"/>
<path d="M538.8 1475V1524H456.8V1546" fill="none" stroke="#14a7e9" stroke-width="5" stroke-linecap="butt" stroke-linejoin="miter"/>
<path d="M596.2 1475V1525H693.2V1546" fill="none" stroke="#14a7e9" stroke-width="5" stroke-linecap="butt" stroke-linejoin="miter"/>
<path d="M1361.9 1273V1336" fill="none" stroke="#14a7e9" stroke-width="4.6" stroke-linecap="butt" stroke-linejoin="miter"/>
<path d="M1352.9 1322l18 18m0-18l-18 18" fill="none" stroke="#14a7e9" stroke-width="2.6" stroke-linecap="round" stroke-linejoin="miter"/>
<path d="M1408.1 1317.4L1361.9 1350" fill="none" stroke="#14a7e9" stroke-width="2.6" stroke-linecap="round" stroke-linejoin="miter"/>
<path d="M1361.9 1350V1382" fill="none" stroke="#14a7e9" stroke-width="4.6" stroke-linecap="butt" stroke-linejoin="miter"/>
<ellipse cx="1363.2" cy="1410.8" rx="35.6" ry="27.8" fill="none" stroke="#14a7e9" stroke-width="4.3"/>
<ellipse cx="1334.8" cy="1449.2" rx="35.6" ry="27.8" fill="none" stroke="#14a7e9" stroke-width="4.3"/>
<ellipse cx="1391.6" cy="1449.2" rx="35.6" ry="27.8" fill="none" stroke="#14a7e9" stroke-width="4.3"/>
<path d="M1332.6 1478V1521.8H1251.6V1543" fill="none" stroke="#14a7e9" stroke-width="5" stroke-linecap="butt" stroke-linejoin="miter"/>
<path d="M1390.6 1478V1522.3H1488.2V1543" fill="none" stroke="#14a7e9" stroke-width="5" stroke-linecap="butt" stroke-linejoin="miter"/>
<path d="M2010 1269V1336" fill="none" stroke="#14a7e9" stroke-width="4.6" stroke-linecap="butt" stroke-linejoin="miter"/>
<path d="M2000.5 1325l18 18m0-18l-18 18" fill="none" stroke="#14a7e9" stroke-width="2.6" stroke-linecap="round" stroke-linejoin="miter"/>
<path d="M2055.9 1323.5L2009.5 1356.7" fill="none" stroke="#14a7e9" stroke-width="2.6" stroke-linecap="round" stroke-linejoin="miter"/>
<path d="M2009.5 1356.7V1402" fill="none" stroke="#14a7e9" stroke-width="4.6" stroke-linecap="butt" stroke-linejoin="miter"/>
<path d="M1811 1401H2107.3" fill="none" stroke="#14a7e9" stroke-width="2.8" stroke-linecap="butt" stroke-linejoin="miter"/>
<path d="M1848.2 1401V1417" fill="none" stroke="#14a7e9" stroke-width="4.6" stroke-linecap="butt" stroke-linejoin="miter"/>
<path d="M2002.1 1401V1417" fill="none" stroke="#14a7e9" stroke-width="4.6" stroke-linecap="butt" stroke-linejoin="miter"/>
<path d="M1832 1376.4H2141" fill="none" stroke="#8a83f3" stroke-width="3.8" stroke-dasharray="13 5"/>
<path d="M1861.8 1377V1389" fill="none" stroke="#8a83f3" stroke-width="3.8" stroke-dasharray="13 5"/>
<path d="M2062.9 1377V1387" fill="none" stroke="#8a83f3" stroke-width="3.8" stroke-dasharray="13 5"/>
<path d="M333 1508.6H767" fill="none" stroke="#8a83f3" stroke-width="3.8" stroke-dasharray="13 5"/>
<path d="M374.8 1509V1964" fill="none" stroke="#8a83f3" stroke-width="3.8" stroke-dasharray="13 5"/>
<path d="M440.1 1510V1535" fill="none" stroke="#8a83f3" stroke-width="3.8" stroke-dasharray="13 5"/>
<path d="M705.9 1511V1534" fill="none" stroke="#8a83f3" stroke-width="3.8" stroke-dasharray="13 5"/>
<path d="M354 1971H756" fill="none" stroke="#8a83f3" stroke-width="3.8" stroke-dasharray="13 5"/>
<path d="M458.7 1948V1971" fill="none" stroke="#8a83f3" stroke-width="3.8" stroke-dasharray="13 5"/>
<path d="M688.7 1949V1971" fill="none" stroke="#8a83f3" stroke-width="3.8" stroke-dasharray="13 5"/>
<path d="M1187.5 1506.3H1605" fill="none" stroke="#8a83f3" stroke-width="3.8" stroke-dasharray="13 5"/>
<path d="M1585.6 1508V1961" fill="none" stroke="#8a83f3" stroke-width="3.8" stroke-dasharray="13 5"/>
<path d="M1237 1508V1530" fill="none" stroke="#8a83f3" stroke-width="3.8" stroke-dasharray="13 5"/>
<path d="M1500 1508V1530" fill="none" stroke="#8a83f3" stroke-width="3.8" stroke-dasharray="13 5"/>
<path d="M1186.7 1969.3H1627" fill="none" stroke="#8a83f3" stroke-width="3.8" stroke-dasharray="13 5"/>
<path d="M1253.9 1945V1969" fill="none" stroke="#8a83f3" stroke-width="3.8" stroke-dasharray="13 5"/>
<path d="M1483.7 1946V1969" fill="none" stroke="#8a83f3" stroke-width="3.8" stroke-dasharray="13 5"/>
<rect x="389.6" y="1536.8" width="142.7" height="292.0" fill="none" stroke="#f47b3e" stroke-width="4.5"/>
<g fill="none" stroke="#14a7e9" stroke-width="1.5"><rect x="400.0" y="1545.6" width="119.4" height="138.2"/><path d="M519.4 1545.6L400.0 1683.8"/><path d="M406.0 1580.6v-4a19 18.5 0 0 1 38 0a19 18.5 0 0 0 38 0v-6"/><path d="M446.5 1650.6h62m-62 9h62"/></g>
<g transform="translate(396.5 1710.0) scale(1.0024 0.9982)"><use href="#bat"/></g>
<path d="M458.7 1830.0V1871.0" stroke="#f47b3e" stroke-width="4.2"/>
<rect x="393.4" y="1872.2" width="143.6" height="72.8" fill="none" stroke="#f47b3e" stroke-width="4.5"/>
<text class="s" x="424.5" y="1920.3" font-size="30" font-weight="bold" textLength="70" lengthAdjust="spacingAndGlyphs" fill="#117d11">BMS</text>
<text class="s" x="365" y="2013.4" font-size="21.3" font-weight="bold" textLength="174" lengthAdjust="spacingAndGlyphs" fill="#ee1c25">Battery Array 1</text>
<rect x="621.6" y="1535.5" width="143.6" height="295.3" fill="none" stroke="#f47b3e" stroke-width="4.5"/>
<g fill="none" stroke="#14a7e9" stroke-width="1.5"><rect x="631.9" y="1545.6" width="119.4" height="138.2"/><path d="M751.3 1545.6L631.9 1683.8"/><path d="M637.9 1580.6v-4a19 18.5 0 0 1 38 0a19 18.5 0 0 0 38 0v-6"/><path d="M678.4 1650.6h62m-62 9h62"/></g>
<g transform="translate(630.5 1712.7) scale(1.0121 0.9982)"><use href="#bat"/></g>
<path d="M690.6 1832.0V1873.0" stroke="#f47b3e" stroke-width="4.2"/>
<rect x="623.5" y="1874.2" width="143.6" height="72.1" fill="none" stroke="#f47b3e" stroke-width="4.5"/>
<text class="s" x="654.5" y="1921.6" font-size="30" font-weight="bold" textLength="70" lengthAdjust="spacingAndGlyphs" fill="#117d11">BMS</text>
<text class="s" x="613" y="2015" font-size="21.3" font-weight="bold" textLength="175" lengthAdjust="spacingAndGlyphs" fill="#ee1c25">Battery Array n</text>
<rect x="1183.5" y="1533.7" width="143.8" height="292.8" fill="none" stroke="#f47b3e" stroke-width="4.5"/>
<g fill="none" stroke="#14a7e9" stroke-width="1.5"><rect x="1195.0" y="1542.6" width="119.4" height="138.2"/><path d="M1314.4 1542.6L1195.0 1680.8"/><path d="M1201.0 1577.6v-4a19 18.5 0 0 1 38 0a19 18.5 0 0 0 38 0v-6"/><path d="M1241.5 1647.6h62m-62 9h62"/></g>
<g transform="translate(1192.0 1706.7) scale(1.0040 0.9991)"><use href="#bat"/></g>
<path d="M1253.9 1827.7V1868.0" stroke="#f47b3e" stroke-width="4.2"/>
<rect x="1187.8" y="1869.2" width="144.3" height="73.1" fill="none" stroke="#f47b3e" stroke-width="4.5"/>
<text class="s" x="1218.8" y="1918" font-size="30" font-weight="bold" textLength="70" lengthAdjust="spacingAndGlyphs" fill="#117d11">BMS</text>
<text class="s" x="1159.5" y="2011.5" font-size="21.3" font-weight="bold" textLength="174" lengthAdjust="spacingAndGlyphs" fill="#ee1c25">Battery Array 1</text>
<rect x="1416.0" y="1532.2" width="144.3" height="295.7" fill="none" stroke="#f47b3e" stroke-width="4.5"/>
<g fill="none" stroke="#14a7e9" stroke-width="1.5"><rect x="1426.3" y="1542.6" width="119.4" height="138.2"/><path d="M1545.7 1542.6L1426.3 1680.8"/><path d="M1432.3 1577.6v-4a19 18.5 0 0 1 38 0a19 18.5 0 0 0 38 0v-6"/><path d="M1472.8 1647.6h62m-62 9h62"/></g>
<g transform="translate(1425.5 1709.7) scale(1.0081 0.9991)"><use href="#bat"/></g>
<path d="M1485.8 1829.2V1869.7" stroke="#f47b3e" stroke-width="4.2"/>
<rect x="1417.8" y="1871.0" width="143.9" height="72.8" fill="none" stroke="#f47b3e" stroke-width="4.5"/>
<text class="s" x="1448.5" y="1919.5" font-size="30" font-weight="bold" textLength="70" lengthAdjust="spacingAndGlyphs" fill="#117d11">BMS</text>
<text class="s" x="1408" y="2013" font-size="21.3" font-weight="bold" textLength="175" lengthAdjust="spacingAndGlyphs" fill="#ee1c25">Battery Array n</text>
<text class="s" x="787" y="1636.8" font-size="29.6" textLength="99" lengthAdjust="spacingAndGlyphs" fill="#14a7e9">DC/AC</text>
<text class="s" x="1072.6" y="1636.3" font-size="29.6" textLength="99" lengthAdjust="spacingAndGlyphs" fill="#14a7e9">DC/AC</text>
<g fill="#14a7e9"><circle cx="960" cy="1626" r="2.6"/><circle cx="971.5" cy="1626" r="2.6"/><circle cx="983" cy="1626" r="2.6"/></g>
<text class="s" x="1944.5" y="1693.8" font-size="31" font-weight="bold" fill="#ee1c25">Load</text>
<text class="s" x="597" y="845.5" font-size="30.2" fill="#238a23">能量管理系统</text>
<text class="s" x="307" y="1051.5" font-size="30.2" fill="#238a23">中央控制系统</text>
<text class="s" x="924.7" y="954.5" font-size="30.2" fill="#238a23">电力系统专网</text>
<text class="s" x="1233" y="824.8" font-size="30.2" fill="#238a23">电网调度中心</text>
<rect x="250" y="2035.5" width="9" height="1.6" fill="#777"/>
<g transform="translate(2810 1225) scale(0.28019)"><clipPath id="cpGrid"><rect x="50" y="45" width="1168" height="1495"/></clipPath><g clip-path="url(#cpGrid)">
<rect x="50" y="45" width="1168" height="1495" fill="url(#gSky1)"/>
<rect x="50" y="45" width="1168" height="1495" fill="url(#gSky1b)"/>
<g fill="#f4f8fd" opacity=".82" filter="url(#blur8)"><ellipse cx="432" cy="144" rx="47" ry="15" transform="rotate(-28 432 144)"/><ellipse cx="676" cy="264" rx="27" ry="22" transform="rotate(-28 676 264)"/><ellipse cx="103" cy="302" rx="27" ry="15" transform="rotate(-28 103 302)"/><ellipse cx="548" cy="523" rx="29" ry="17" transform="rotate(-28 548 523)"/><ellipse cx="781" cy="590" rx="45" ry="20" transform="rotate(-28 781 590)"/><ellipse cx="1182" cy="86" rx="55" ry="18" transform="rotate(-28 1182 86)"/><ellipse cx="998" cy="161" rx="45" ry="24" transform="rotate(-28 998 161)"/><ellipse cx="488" cy="366" rx="27" ry="14" transform="rotate(-28 488 366)"/><ellipse cx="296" cy="441" rx="39" ry="19" transform="rotate(-28 296 441)"/><ellipse cx="733" cy="313" rx="35" ry="26" transform="rotate(-28 733 313)"/><ellipse cx="863" cy="196" rx="45" ry="22" transform="rotate(-28 863 196)"/><ellipse cx="1066" cy="468" rx="35" ry="29" transform="rotate(-28 1066 468)"/><ellipse cx="195" cy="294" rx="51" ry="16" transform="rotate(-28 195 294)"/><ellipse cx="622" cy="81" rx="48" ry="26" transform="rotate(-28 622 81)"/><ellipse cx="718" cy="550" rx="35" ry="25" transform="rotate(-28 718 550)"/><ellipse cx="743" cy="384" rx="40" ry="27" transform="rotate(-28 743 384)"/><ellipse cx="1146" cy="325" rx="48" ry="14" transform="rotate(-28 1146 325)"/><ellipse cx="866" cy="422" rx="59" ry="27" transform="rotate(-28 866 422)"/><ellipse cx="387" cy="276" rx="48" ry="14" transform="rotate(-28 387 276)"/><ellipse cx="590" cy="154" rx="29" ry="14" transform="rotate(-28 590 154)"/><ellipse cx="943" cy="132" rx="33" ry="20" transform="rotate(-28 943 132)"/><ellipse cx="1062" cy="105" rx="40" ry="22" transform="rotate(-28 1062 105)"/><ellipse cx="1075" cy="518" rx="55" ry="18" transform="rotate(-28 1075 518)"/><ellipse cx="537" cy="260" rx="55" ry="29" transform="rotate(-28 537 260)"/><ellipse cx="328" cy="331" rx="45" ry="18" transform="rotate(-28 328 331)"/><ellipse cx="64" cy="294" rx="37" ry="23" transform="rotate(-28 64 294)"/><ellipse cx="1156" cy="446" rx="43" ry="23" transform="rotate(-28 1156 446)"/><ellipse cx="837" cy="90" rx="56" ry="26" transform="rotate(-28 837 90)"/><ellipse cx="1065" cy="506" rx="38" ry="20" transform="rotate(-28 1065 506)"/><ellipse cx="179" cy="415" rx="27" ry="15" transform="rotate(-28 179 415)"/><ellipse cx="176" cy="263" rx="25" ry="27" transform="rotate(-28 176 263)"/><ellipse cx="766" cy="143" rx="33" ry="19" transform="rotate(-28 766 143)"/><ellipse cx="478" cy="128" rx="54" ry="29" transform="rotate(-28 478 128)"/><ellipse cx="595" cy="330" rx="28" ry="15" transform="rotate(-28 595 330)"/><ellipse cx="454" cy="208" rx="54" ry="16" transform="rotate(-28 454 208)"/><ellipse cx="86" cy="592" rx="43" ry="16" transform="rotate(-28 86 592)"/><ellipse cx="684" cy="75" rx="43" ry="29" transform="rotate(-28 684 75)"/><ellipse cx="1052" cy="449" rx="34" ry="19" transform="rotate(-28 1052 449)"/><ellipse cx="252" cy="492" rx="43" ry="26" transform="rotate(-28 252 492)"/><ellipse cx="439" cy="184" rx="53" ry="29" transform="rotate(-28 439 184)"/><ellipse cx="1040" cy="511" rx="53" ry="25" transform="rotate(-28 1040 511)"/><ellipse cx="320" cy="349" rx="37" ry="14" transform="rotate(-28 320 349)"/><ellipse cx="92" cy="216" rx="34" ry="25" transform="rotate(-28 92 216)"/><ellipse cx="1159" cy="310" rx="57" ry="29" transform="rotate(-28 1159 310)"/><ellipse cx="1158" cy="264" rx="32" ry="17" transform="rotate(-28 1158 264)"/><ellipse cx="1095" cy="530" rx="41" ry="24" transform="rotate(-28 1095 530)"/><ellipse cx="979" cy="107" rx="48" ry="28" transform="rotate(-28 979 107)"/><ellipse cx="959" cy="480" rx="41" ry="16" transform="rotate(-28 959 480)"/><ellipse cx="967" cy="246" rx="53" ry="29" transform="rotate(-28 967 246)"/><ellipse cx="515" cy="284" rx="58" ry="25" transform="rotate(-28 515 284)"/><ellipse cx="1100" cy="511" rx="30" ry="27" transform="rotate(-28 1100 511)"/><ellipse cx="1187" cy="428" rx="37" ry="22" transform="rotate(-28 1187 428)"/><ellipse cx="210" cy="67" rx="47" ry="22" transform="rotate(-28 210 67)"/><ellipse cx="1133" cy="302" rx="55" ry="27" transform="rotate(-28 1133 302)"/><ellipse cx="302" cy="201" rx="35" ry="17" transform="rotate(-28 302 201)"/><ellipse cx="734" cy="205" rx="39" ry="16" transform="rotate(-28 734 205)"/><ellipse cx="1106" cy="258" rx="41" ry="23" transform="rotate(-28 1106 258)"/><ellipse cx="1099" cy="295" rx="57" ry="22" transform="rotate(-28 1099 295)"/><ellipse cx="671" cy="353" rx="25" ry="21" transform="rotate(-28 671 353)"/><ellipse cx="270" cy="62" rx="31" ry="21" transform="rotate(-28 270 62)"/><ellipse cx="893" cy="371" rx="36" ry="22" transform="rotate(-28 893 371)"/><ellipse cx="698" cy="499" rx="28" ry="22" transform="rotate(-28 698 499)"/><ellipse cx="345" cy="215" rx="52" ry="22" transform="rotate(-28 345 215)"/><ellipse cx="705" cy="485" rx="56" ry="21" transform="rotate(-28 705 485)"/><ellipse cx="764" cy="761" rx="65" ry="37" transform="rotate(-20 764 761)"/><ellipse cx="580" cy="769" rx="63" ry="43" transform="rotate(-20 580 769)"/><ellipse cx="864" cy="865" rx="87" ry="27" transform="rotate(-20 864 865)"/><ellipse cx="703" cy="884" rx="81" ry="25" transform="rotate(-20 703 884)"/><ellipse cx="199" cy="743" rx="43" ry="27" transform="rotate(-20 199 743)"/><ellipse cx="144" cy="807" rx="79" ry="42" transform="rotate(-20 144 807)"/><ellipse cx="237" cy="820" rx="73" ry="25" transform="rotate(-20 237 820)"/><ellipse cx="1075" cy="890" rx="50" ry="43" transform="rotate(-20 1075 890)"/><ellipse cx="517" cy="756" rx="89" ry="41" transform="rotate(-20 517 756)"/><ellipse cx="245" cy="740" rx="65" ry="29" transform="rotate(-20 245 740)"/><ellipse cx="285" cy="709" rx="76" ry="22" transform="rotate(-20 285 709)"/><ellipse cx="697" cy="743" rx="40" ry="29" transform="rotate(-20 697 743)"/><ellipse cx="777" cy="763" rx="43" ry="44" transform="rotate(-20 777 763)"/><ellipse cx="966" cy="892" rx="45" ry="28" transform="rotate(-20 966 892)"/><ellipse cx="105" cy="838" rx="53" ry="24" transform="rotate(-20 105 838)"/><ellipse cx="545" cy="875" rx="80" ry="27" transform="rotate(-20 545 875)"/><ellipse cx="231" cy="877" rx="68" ry="38" transform="rotate(-20 231 877)"/><ellipse cx="162" cy="636" rx="74" ry="31" transform="rotate(-20 162 636)"/><ellipse cx="143" cy="882" rx="71" ry="40" transform="rotate(-20 143 882)"/><ellipse cx="156" cy="859" rx="43" ry="41" transform="rotate(-20 156 859)"/><ellipse cx="581" cy="714" rx="67" ry="43" transform="rotate(-20 581 714)"/><ellipse cx="368" cy="656" rx="66" ry="27" transform="rotate(-20 368 656)"/><ellipse cx="185" cy="665" rx="42" ry="26" transform="rotate(-20 185 665)"/><ellipse cx="418" cy="705" rx="77" ry="28" transform="rotate(-20 418 705)"/><ellipse cx="635" cy="669" rx="57" ry="22" transform="rotate(-20 635 669)"/><ellipse cx="348" cy="624" rx="76" ry="34" transform="rotate(-20 348 624)"/>
<ellipse cx="250" cy="980" rx="330" ry="170"/><ellipse cx="900" cy="1040" rx="420" ry="150"/><ellipse cx="620" cy="900" rx="300" ry="110"/><ellipse cx="160" cy="1180" rx="200" ry="110"/><ellipse cx="1000" cy="1270" rx="110" ry="35"/><ellipse cx="1120" cy="1380" rx="110" ry="45"/><ellipse cx="150" cy="1480" rx="120" ry="30"/><ellipse cx="1050" cy="820" rx="200" ry="90"/>
</g>
<g fill="none" stroke="#1d2a3a" stroke-linecap="round" filter="url(#blur1)">
<path d="M50 800L420 1080M50 900L500 1200M50 1080L700 1420M50 1250L500 1460M1218 780L1000 600M1218 1100L940 900M1218 1010L1010 900M720 230L50 -100M60 560L330 780" stroke-width="3" opacity=".55" stroke-dasharray="16 8"/>
<path d="M470 410L290 1540M520 400L530 1540M600 410L750 1540M625 810L905 1540" stroke-width="19"/>
<path d="M400 370L620 395M390 380L470 460M620 395L600 470M330 500L470 400M330 500L610 520M470 460L610 520M780 330L600 400M780 330L900 520M600 470L900 520M250 740L460 620M250 740L640 700M460 620L900 520M640 700L900 520M240 960L440 830M240 960L720 930M440 830L910 830M720 930L910 830M600 800L910 830" stroke-width="14"/>
<path d="M470 460L600 470M465 540L610 560M455 620L620 640M440 720L640 760M420 830L660 870M400 950L690 990M380 1080L710 1110M355 1220L740 1250M330 1370L790 1400M470 460L610 560L455 620L640 760L420 830L690 990L380 1080L740 1250L330 1370L800 1520M600 470L465 540L620 640L440 720L660 870L400 950L710 1110L355 1220L790 1400L300 1520M520 400L610 520M530 900L690 990M530 1100L740 1250M530 1300L640 1540M530 1540L740 1250M750 1540L625 1000M625 820L700 1120M700 1120L850 1400M625 1000L800 1250" stroke-width="9"/>
<path d="M345 510L600 410M300 730L880 530M280 950L890 840M360 540L580 430M560 330L760 340M400 420L560 330M600 400L760 340" stroke-width="6"/>
<g stroke="#5b6a78" stroke-width="14"><path d="M725 235L880 465M905 535L1000 625M300 790L385 840M935 862L1010 922M190 700L250 742M190 925L240 958M855 700L870 790"/></g>
</g></g></g>
<g transform="translate(3400 1700) scale(0.22376)"><clipPath id="cpChg"><rect x="55" y="55" width="2185" height="1045"/></clipPath><g clip-path="url(#cpChg)" filter="url(#blur2)">
<rect x="55" y="55" width="2185" height="1045" fill="url(#gChgBg)"/>
<path d="M60 470L1300 540L2240 640V1100H55z" fill="#c6c9cb"/>
<path d="M60 500L1300 560L2240 900V1100H340z" fill="url(#gChgFloor)"/>
<path d="M1300 540L2240 620V900L1300 600z" fill="#c9d3dc"/>
<path d="M60 540L340 1100M330 900L1330 770M300 1010L1550 840M640 1095L1720 920M1560 1100L1990 1020" stroke="#f4f6f7" stroke-width="11" fill="none"/>
<path d="M80 300Q80 285 100 285L640 280L665 440L95 470z" fill="#c3c8ce"/><path d="M110 330L560 318V352L110 362z" fill="#2b2f35"/><path d="M110 340L560 328" stroke="#e8eaec" stroke-width="8" stroke-dasharray="30 18"/>
<ellipse cx="268" cy="440" rx="26" ry="28" fill="#8a8e93"/><ellipse cx="560" cy="420" rx="24" ry="26" fill="#8a8e93"/>
<path d="M470 440L440 510M470 440L495 505" stroke="#8f9499" stroke-width="12"/>
<rect x="665" y="410" width="40" height="70" rx="8" fill="#e6d21e"/><rect x="665" y="422" width="40" height="11" fill="#17181a"/><rect x="665" y="445" width="40" height="11" fill="#17181a"/><rect x="665" y="466" width="40" height="11" fill="#17181a"/><rect x="775" y="440" width="36" height="55" rx="8" fill="#e6d21e"/><rect x="775" y="449" width="36" height="8" fill="#17181a"/><rect x="775" y="467" width="36" height="8" fill="#17181a"/><rect x="775" y="484" width="36" height="8" fill="#17181a"/>
<path d="M1290 680L1335 675L2150 1010L2060 1042z" fill="#dfe9f2"/>
<path d="M1300 700L2050 1035" stroke="#2a2a20" stroke-width="12" stroke-dasharray="26 18"/><path d="M1313 712L2063 1047" stroke="#d8c81e" stroke-width="7" stroke-dasharray="18 26"/>
<path d="M1280 560h30v130h-30z" fill="#1f9a4c"/><rect x="1283" y="586" width="18" height="71" fill="#e8efe9"/><rect x="1281" y="566" width="24" height="15" fill="#24282c"/><path d="M1400 590h32v130h-32z" fill="#1f9a4c"/><rect x="1403" y="616" width="19" height="71" fill="#e8efe9"/><rect x="1401" y="596" width="25" height="15" fill="#24282c"/><path d="M1525 620h64v170h-64z" fill="#1f9a4c"/><rect x="1532" y="654" width="38" height="93" fill="#e8efe9"/><rect x="1528" y="628" width="51" height="20" fill="#24282c"/><path d="M1680 675h70v185h-70z" fill="#1f9a4c"/><rect x="1688" y="712" width="42" height="101" fill="#e8efe9"/><rect x="1683" y="684" width="56" height="22" fill="#24282c"/><path d="M1895 725h75v235h-75z" fill="#1f9a4c"/><rect x="1904" y="772" width="45" height="129" fill="#e8efe9"/><rect x="1898" y="736" width="60" height="28" fill="#24282c"/>
<path d="M305 575Q305 535 345 530L1230 510L1322 560L1272 740L620 830H345L312 700z" fill="url(#gBus)"/>
<path d="M370 600L1178 553L1188 600L385 678z" fill="#22252a"/>
<path d="M1180 600L1232 520L1320 560L1272 692z" fill="#2a2e35"/><path d="M1215 545L1275 570L1250 660" fill="none" stroke="#c9ced3" stroke-width="10"/>
<path d="M305 590L335 600L345 690L312 680z" fill="#30343a"/>
<path d="M420 640L1180 585" stroke="#4c5158" stroke-width="10" stroke-dasharray="40 22"/>
<ellipse cx="636" cy="800" rx="44" ry="46" fill="#8c9095"/><ellipse cx="636" cy="800" rx="24" ry="26" fill="#a9adb2"/>
<ellipse cx="1110" cy="740" rx="39" ry="42" fill="#8c9095"/><ellipse cx="1110" cy="740" rx="21" ry="23" fill="#a9adb2"/>
<path d="M340 830H620L1272 740L1280 765L640 860H350z" fill="#7f8790" opacity=".6"/>
<g fill="#8f9397"><ellipse cx="203" cy="730" rx="16" ry="18"/><path d="M180 750h46l12 70-20 85h-30l-16-85z"/><ellipse cx="262" cy="742" rx="14" ry="16"/><path d="M242 760h42l8 65-16 70h-28l-12-70z"/></g>
<rect x="1352" y="500" width="58" height="330" fill="url(#gCol)"/><rect x="1345" y="762" width="72" height="102" rx="8" fill="#e6d21e"/><rect x="1345" y="780" width="72" height="16" fill="#17181a"/><rect x="1345" y="813" width="72" height="16" fill="#17181a"/><rect x="1345" y="843" width="72" height="16" fill="#17181a"/>
<rect x="1745" y="455" width="56" height="560" fill="url(#gCol)"/><rect x="1735" y="950" width="72" height="135" rx="8" fill="#e6d21e"/><rect x="1735" y="974" width="72" height="21" fill="#17181a"/><rect x="1735" y="1017" width="72" height="21" fill="#17181a"/><rect x="1735" y="1058" width="72" height="21" fill="#17181a"/>
<path d="M190 160L930 520L1780 505L2210 400L2210 425L1785 535L925 550L185 185z" fill="#a9d6ef"/>
<path d="M930 520L1830 240L2210 395L1780 500z" fill="#e8f5fb"/>
<path d="M1780 470L1100 470M1780 470L1500 350M1780 470L1830 270M1780 470L2050 340M1780 470L2190 400M1780 470L1300 410" stroke="#bfe3f4" stroke-width="12" fill="none"/>
<path d="M930 520L1830 240L2210 395" stroke="#f7fcff" stroke-width="14" fill="none"/>
<path d="M190 160L560 80L1830 240L930 520z" fill="#a7d3ec"/>
<path d="M235 162L565 95L1740 238L930 492z" fill="#213d61"/>
<path d="M231 151L1030 488M272 142L1130 457M313 133L1230 426M354 124L1330 395M395 115L1430 364M436 106L1530 333M477 97L1630 302M518 88L1730 271M251 190L665 93M313 220L771 106M375 250L877 120M436 280L983 133M498 310L1089 146M560 340L1195 160M621 370L1300 173M683 400L1406 186M745 430L1512 200M806 460L1618 213M868 490L1724 226" stroke="#5f86ad" stroke-width="5" fill="none" opacity=".8"/>
</g></g>
<g transform="translate(4030 1680) scale(0.18895)"><clipPath id="cpOff"><rect x="70" y="48" width="1248" height="1474"/></clipPath><g clip-path="url(#cpOff)" filter="url(#blur2)">
<rect x="70" y="48" width="1248" height="1474" fill="url(#gOffSky)"/>
<ellipse cx="1250" cy="1130" rx="420" ry="230" fill="url(#gSun)"/>
<ellipse cx="330" cy="1100" rx="300" ry="140" fill="#d9a49a" opacity=".5" filter="url(#blur8)"/>
<path d="M150 950L170 1300M205 1020L215 1300" stroke="#8f7f86" stroke-width="14"/>
<g fill="#e9c79a" opacity=".7"><rect x="1080" y="1180" width="40" height="200"/><rect x="1150" y="1220" width="50" height="160"/><rect x="1010" y="1230" width="40" height="150"/></g>
<path d="M240 1205Q360 1150 490 1180V1400H250z" fill="#5f8fd6"/><path d="M240 1205Q360 1150 490 1180V1215Q360 1190 240 1240z" fill="#8dbbe6"/><path d="M250 1240L490 1215V1262L250 1285z" fill="#9a8f8c"/>
<path d="M300 1290V1400M340 1285V1400M385 1282V1400M430 1278V1400M470 1275V1400" stroke="#2f4f8a" stroke-width="12"/>
<path d="M495 480L585 385L745 255H757V1405H640L500 1260z" fill="#596273"/>
<path d="M585 385V1330" stroke="#8a7d70" stroke-width="22"/>
<path d="M500 555L752 368M500 610L752 436M500 665L752 504M500 720L752 572M500 775L752 640M500 830L752 708M500 885L752 776M500 940L752 844M500 995L752 912M500 1050L752 980M500 1105L752 1048M500 1160L752 1116M500 1215L752 1184M500 1270L752 1252" stroke="#8f9db4" stroke-width="6" opacity=".6"/>
<path d="M520 480L560 440V1290L520 1265zM625 380L730 290V1390L625 1360z" fill="#7286a3" opacity=".6"/>
<path d="M757 255L995 545V640L965 640V1165L757 1400z" fill="#9c8873"/>
<path d="M870 560L965 645V1150L870 1135z" fill="#a4cfe0"/><path d="M905 1120L965 1050V1150L905 1140z" fill="#4f8a55"/>
<path d="M758 362L990 621M758 424L990 667M758 486L990 713M758 548L990 759M758 610L990 805M758 672L990 851M758 734L990 897M758 796L990 943M758 858L990 989M758 920L990 1035M758 982L990 1081M758 1044L990 1127M758 1106L990 1173" stroke="#cdb9a0" stroke-width="9" opacity=".75"/>
<path d="M745 255H768L995 545V600L760 300z" fill="#d38b57"/>
<path d="M757 255V1400" stroke="#d9c3a3" stroke-width="12"/><path d="M860 480V1140" stroke="#b7a48c" stroke-width="10"/>
<path d="M790 1140L860 1130L995 1170V1400H790z" fill="#8c6d58"/><path d="M862 1175L980 1195V1290L862 1282z" fill="#8fa2b1"/><path d="M862 1310H980V1395H862z" fill="#c9c28a"/><path d="M805 1165L845 1158V1395H805z" fill="#6f8296"/>
<path d="M70 1395H1318V1455H70z" fill="#3f6b2e"/><path d="M250 1400L760 1395L780 1440L250 1450z" fill="#4d8a34"/>
<path d="M70 1450H1318V1522H70z" fill="#3c424b"/><path d="M1000 1395L1318 1370V1440L1000 1455z" fill="#7a7468"/>
<rect x="70" y="1488" width="1248" height="34" fill="#2a3039"/><path d="M455 1503H1305" stroke="#b9c0c8" stroke-width="12" stroke-dasharray="30 12 50 10 18 14"/>
<g fill="#2c4729"><ellipse cx="110" cy="1230" rx="60" ry="90"/><ellipse cx="215" cy="1310" rx="70" ry="60"/><ellipse cx="120" cy="1400" rx="90" ry="70"/><ellipse cx="545" cy="1290" rx="80" ry="65"/><ellipse cx="1075" cy="1320" rx="50" ry="45"/><ellipse cx="1290" cy="1250" rx="45" ry="115"/><ellipse cx="1180" cy="1350" rx="45" ry="30"/></g>
<g fill="#3f6a33"><ellipse cx="200" cy="1290" rx="45" ry="35"/><ellipse cx="530" cy="1265" rx="55" ry="35"/><ellipse cx="1070" cy="1305" rx="35" ry="25"/></g>
<path d="M545 1340V1440M130 1440V1480M225 1400V1470" stroke="#2a2a26" stroke-width="10"/>
<ellipse cx="1100" cy="1430" rx="70" ry="22" fill="#9aa0a6"/>
</g></g>
<g transform="translate(4550 1680) scale(0.18574)"><clipPath id="cpCom"><rect x="68" y="38" width="1197" height="1487"/></clipPath><g clip-path="url(#cpCom)" filter="url(#blur2)">
<rect x="68" y="38" width="1197" height="1487" fill="url(#gComSky)"/><rect x="68" y="38" width="1197" height="1487" fill="url(#gComSky2)"/>
<g fill="#c7d3e6"><rect x="1040" y="1185" width="90" height="130"/><rect x="1160" y="1215" width="60" height="110"/><rect x="1215" y="1160" width="50" height="170"/></g>
<path d="M255 830L320 765L490 825L510 1235L265 1255z" fill="#3f72b4"/>
<path d="M320 765L385 790L405 1245L335 1252L300 1000z" fill="#a7c3e3"/>
<path d="M385 790L490 825L510 1235L405 1245L450 1050z" fill="#4a7fc2"/><path d="M400 870L470 900L440 1240H405z" fill="#2f5a9a" opacity=".7"/>
<path d="M655 620L690 590L735 340L890 410L800 900L725 1360L655 1235z" fill="#456fae"/>
<path d="M735 340L890 410V470L720 420z" fill="#4a7cc0"/>
<path d="M890 470L970 455L1025 520L975 820L935 1250L745 1250L800 900z" fill="#5a98d8"/>
<path d="M884 500L1022 520M878 528L1019 548M873 556L1016 576M868 584L1012 604M863 612L1009 632M857 640L1006 660M852 668L1003 688M847 696L1000 716M841 724L997 744M836 752L994 772M831 780L991 800M825 808L988 828M820 836L985 856M815 864L982 884M809 892L979 912M804 920L976 940M799 948L972 968M793 976L969 996M788 1004L966 1024M783 1032L963 1052M777 1060L960 1080M772 1088L957 1108M767 1116L954 1136M761 1144L951 1164M756 1172L948 1192M751 1200L945 1220M745 1228L942 1248" stroke="#2f62a8" stroke-width="7" opacity=".55"/>
<path d="M745 1250L935 1250L1000 1360H725z" fill="#8fb4dc"/><path d="M720 1130L760 1000L770 1250L725 1340z" fill="#e6b06a" opacity=".8"/>
<path d="M1025 520V1290L1000 1360L930 1250L975 820z" fill="#bcd1e8"/><path d="M975 820L1025 700V1000z" fill="#e2ecf6"/>
<path d="M890 470L970 455L1000 490L900 520z" fill="#2f5fae"/>
<path d="M330 1245L1000 1360L700 1385L320 1345z" fill="#9aaec4"/><path d="M480 1290L720 1330L700 1385L400 1350z" fill="#d9b472"/>
<path d="M68 1395H1265V1525H68z" fill="#3a323b"/><path d="M68 1395H1265V1445H68z" fill="#7a5250"/><path d="M300 1380H1000V1410H300z" fill="#c9a35e" opacity=".7"/>
<g fill="#2d4a36"><ellipse cx="150" cy="1250" rx="50" ry="45"/><ellipse cx="235" cy="1260" rx="40" ry="50"/><ellipse cx="150" cy="1340" rx="110" ry="60"/><ellipse cx="440" cy="1300" rx="70" ry="65"/><ellipse cx="1100" cy="1330" rx="90" ry="50"/><ellipse cx="1220" cy="1330" rx="60" ry="45"/><ellipse cx="120" cy="1480" rx="70" ry="40"/></g>
<path d="M105 1180V1460" stroke="#5a5a52" stroke-width="8"/><ellipse cx="105" cy="1178" rx="30" ry="10" fill="#e9d9a0"/>
<ellipse cx="1110" cy="1420" rx="150" ry="40" fill="#2a2a30"/><ellipse cx="1100" cy="1405" rx="100" ry="18" fill="#8d8a80"/>
<ellipse cx="300" cy="1470" rx="40" ry="60" fill="#2b2b31"/>
</g></g>
<g transform="translate(3590 900) scale(0.13228)"><g filter="url(#blur4)">
<circle cx="840" cy="780" r="690" fill="url(#gPvGlow)"/>
<circle cx="840" cy="780" r="640" fill="none" stroke="url(#gRing)" stroke-width="70"/>
<path d="M300 1000A640 640 0 0 0 1100 1365" fill="none" stroke="#8cc63f" stroke-width="80" stroke-linecap="round"/>
<path d="M1180 1180L1300 1030" stroke="#a8d843" stroke-width="45"/>
<ellipse cx="1000" cy="1240" rx="260" ry="38" fill="#d9dadb"/><ellipse cx="1000" cy="1232" rx="230" ry="26" fill="#f1f1f2"/>
<rect x="930" y="1020" width="38" height="205" fill="#b9bcbf"/><rect x="1020" y="1020" width="38" height="205" fill="#c9cccf"/>
<g fill="#7cbf2a"><path d="M400 450Q400 360 455 340Q520 400 500 465zM500 465Q520 400 580 390Q590 440 560 470z"/></g>
<path d="M245 480L760 470L990 1010L285 1025z" fill="url(#gPanel)"/>
<path d="M348 478L426 1022M451 476L567 1019M554 474L708 1016M657 472L849 1013M253 589L806 578M261 698L852 686M269 807L898 794M277 916L944 902" stroke="#dfe9f6" stroke-width="7" opacity=".8"/>
<path d="M770 475L1290 470L1750 1010L1020 1020z" fill="url(#gPanel)"/>
<path d="M874 474L1166 1018M978 473L1312 1016M1082 472L1458 1014M1186 471L1604 1012M820 584L1382 578M870 693L1474 686M920 802L1566 794M970 911L1658 902" stroke="#dfe9f6" stroke-width="7" opacity=".8"/>
<path d="M760 470L990 1010L1020 1020L770 475z" fill="#e9eef4"/><path d="M285 1025L990 1010L985 1030L285 1042zM1020 1020L1750 1010L1740 1030L1025 1040z" fill="#8e949c"/>
<path d="M1065 295Q1190 470 1170 540Q1120 600 1050 560Q1000 470 1065 295z" fill="#2f9ad6"/><path d="M1065 295Q1010 440 1040 540Q990 500 1010 420z" fill="#e9f6fd"/>
<path d="M560 700Q640 780 610 840Q560 880 520 830Q500 770 560 700z" fill="#3ba3dc"/><path d="M545 715Q500 790 530 850Q480 800 545 715z" fill="#f2fbff"/>
<path d="M1420 690Q1490 760 1470 810Q1420 850 1390 800Q1370 750 1420 690z" fill="#3ba3dc"/><ellipse cx="1405" cy="800" rx="28" ry="45" fill="#f2fbff"/>
<path d="M450 545Q500 590 480 625Q440 640 425 605Q420 575 450 545z" fill="#5db5e4"/><ellipse cx="440" cy="600" rx="18" ry="28" fill="#f2fbff"/>
<g><path d="M470 1110Q560 1040 680 1080Q740 1150 720 1240Q600 1270 520 1200z" fill="#79bd28"/><path d="M700 1000Q760 930 800 940Q860 1040 800 1180Q720 1150 700 1000z" fill="#8bcb33"/><path d="M790 1180Q820 1090 920 1080Q920 1180 850 1230z" fill="#6fb324"/><path d="M520 1130Q600 1100 690 1140" stroke="#d3f08a" stroke-width="18" fill="none"/><path d="M740 1010Q790 1000 800 1100" stroke="#d9f39a" stroke-width="18" fill="none"/></g>
</g></g>
<g transform="translate(3920 900) scale(0.15060)"><g id="cont"><g filter="url(#blur2)"><path d="M125 260L250 130L300 150V1130L270 1180L125 1010z" fill="#b7b7b2"/><path d="M300 150L2175 370V905L300 1130z" fill="url(#gCont)"/><path d="M250 130L300 150L2175 370V350z" fill="#d9d8d4"/><path d="M345 163V1094M391 168V1089M437 174V1083M483 179V1078M529 184V1072M575 190V1067M621 195V1061M667 201V1055M713 206V1050M759 211V1044M805 217V1039M851 222V1033M897 228V1028M943 233V1022M989 238V1017M1035 244V1011M1081 249V1006M1127 255V1000M1173 260V995M1219 265V989M1265 271V984M1311 276V978M1357 282V973M1403 287V967M1449 292V962M1495 298V956M1541 303V951M1587 309V945M1633 314V940M1679 319V934M1725 325V929M1771 330V923M1817 335V917M1863 341V912M1909 346V906M1955 352V901M2001 357V895M2047 362V890M2093 368V884M2139 373V879" stroke="#bcbbb6" stroke-width="8" opacity=".8"/><path d="M300 1095L2175 885V908L300 1130z" fill="#a3a29d"/><path d="M125 1010L270 1180L300 1130L300 1100L270 1140L125 980z" fill="#9c9b96"/><path d="M165 580L215 575V960L165 930z" fill="#a9a9a4"/><path d="M695 365L940 385L940 1000L695 1020z" fill="#d6d5d0" stroke="#5a5853" stroke-width="11"/><path d="M745 640L900 636V975L748 985z" fill="#c6c5c0"/><path d="M750 660L898 656M750 684L898 680M750 708L898 704M750 732L898 728M750 756L898 752M750 780L898 776M750 804L898 800M750 828L898 824M750 852L898 848M750 876L898 872M750 900L898 896M750 924L898 920M750 948L898 944M750 972L898 968" stroke="#b5b4af" stroke-width="6"/><path d="M1060 600L1175 598V950L1060 960z" fill="#bdbcb7"/><path d="M1065 620H1172M1065 642H1172M1065 664H1172M1065 686H1172M1065 708H1172M1065 730H1172M1065 752H1172M1065 774H1172M1065 796H1172M1065 818H1172M1065 840H1172M1065 862H1172M1065 884H1172M1065 906H1172M1065 928H1172" stroke="#a5a49f" stroke-width="7"/><path d="M1375 420L1540 430L1540 935L1375 945z" fill="#d6d5d0" stroke="#5a5853" stroke-width="11"/><path d="M1735 375L1885 385L1885 900L1735 905z" fill="#d6d5d0" stroke="#5a5853" stroke-width="11"/><path d="M1900 400L2020 405L2020 880L1900 890z" fill="#d6d5d0" stroke="#5a5853" stroke-width="11"/><path d="M2035 410L2152 415L2152 870L2035 880z" fill="#d6d5d0" stroke="#5a5853" stroke-width="11"/><path d="M820 549L846 595L794 595z" fill="#e5b820" stroke="#3a372f" stroke-width="5"/><path d="M1455 566L1477 605L1433 605z" fill="#e5b820" stroke="#3a372f" stroke-width="5"/><path d="M1805 573L1822 603L1788 603z" fill="#e5b820" stroke="#3a372f" stroke-width="5"/><path d="M1960 575L1977 605L1943 605z" fill="#e5b820" stroke="#3a372f" stroke-width="5"/><path d="M2095 579L2110 606L2080 606z" fill="#e5b820" stroke="#3a372f" stroke-width="5"/><path d="M800 860h90M1450 815h60M1810 795h50M1975 790h40M2060 785h40" stroke="#9a9994" stroke-width="14"/><g transform="translate(395 225) scale(0.19 0.2) skewY(6)"><use href="#east"/></g></g></g></g>
<g transform="translate(4305.3 899.8) scale(0.15060)"><use href="#cont"/></g>
<path d="M3151 1492.6 H3244" fill="none" stroke="#0a0a0a" stroke-width="5.4" stroke-linecap="butt"/>
<path d="M3405 1492.6 H3502" fill="none" stroke="#0a0a0a" stroke-width="5.4" stroke-linecap="butt"/>
<rect x="3498" y="1488" width="9.5" height="9.5" fill="#0a0a0a"/>
<path d="M3501 1508L3532 1491.4" fill="none" stroke="#0a0a0a" stroke-width="4.4" stroke-linecap="round"/>
<path d="M3530 1492.6 H4670.2" fill="none" stroke="#0a0a0a" stroke-width="5.4" stroke-linecap="butt"/>
<g fill="none" stroke="#111" stroke-width="1.8"><circle cx="3302.4" cy="1492.7" r="59"/><circle cx="3346.8" cy="1492.7" r="59"/></g>
<path d="M3697.0 1492.6 V1378" fill="none" stroke="#0a0a0a" stroke-width="5.4" stroke-linecap="butt"/>
<rect x="3692.2" y="1369.5" width="9.5" height="9.5" fill="#0a0a0a"/>
<path d="M3697.0 1347L3712.5 1376.5" fill="none" stroke="#0a0a0a" stroke-width="4.4" stroke-linecap="round"/>
<path d="M3697.0 1349V1286" fill="none" stroke="#0a0a0a" stroke-width="5.4" stroke-linecap="butt"/>
<path d="M3697.0 1155V1109.0" fill="none" stroke="#0a0a0a" stroke-width="5.4" stroke-linecap="round"/>
<g fill="none" stroke="#3dbcf1" stroke-width="1.6"><rect x="3640.2" y="1154.8" width="113.3" height="131.4"/><path d="M3753.5 1154.8L3640.2 1286.2" stroke-width="2"/><path d="M3651.2 1177.6h57.5m-57.5 9.3h57.5" stroke-width="2"/><path d="M3676.2 1258.8v-3a17.6 16 0 0 1 35.2 0a17.6 16 0 0 0 35.2 0v-5" stroke-width="2"/></g>
<path d="M4095.2 1492.6 V1378" fill="none" stroke="#0a0a0a" stroke-width="5.4" stroke-linecap="butt"/>
<rect x="4090.4" y="1369.5" width="9.5" height="9.5" fill="#0a0a0a"/>
<path d="M4095.2 1347L4110.7 1376.5" fill="none" stroke="#0a0a0a" stroke-width="4.4" stroke-linecap="round"/>
<path d="M4095.2 1349V1286" fill="none" stroke="#0a0a0a" stroke-width="5.4" stroke-linecap="butt"/>
<path d="M4095.2 1155V1058.0" fill="none" stroke="#0a0a0a" stroke-width="5.4" stroke-linecap="butt"/>
<g fill="none" stroke="#3dbcf1" stroke-width="1.6"><rect x="4037.7" y="1154.8" width="113.3" height="131.4"/><path d="M4151.0 1154.8L4037.7 1286.2" stroke-width="2"/><path d="M4048.7 1177.6h57.5m-57.5 9.3h57.5" stroke-width="2"/><path d="M4073.7 1258.8v-3a17.6 16 0 0 1 35.2 0a17.6 16 0 0 0 35.2 0v-5" stroke-width="2"/></g>
<path d="M4477.5 1492.6 V1378" fill="none" stroke="#0a0a0a" stroke-width="5.4" stroke-linecap="butt"/>
<rect x="4472.8" y="1369.5" width="9.5" height="9.5" fill="#0a0a0a"/>
<path d="M4477.5 1347L4493.0 1376.5" fill="none" stroke="#0a0a0a" stroke-width="4.4" stroke-linecap="round"/>
<path d="M4477.5 1349V1286" fill="none" stroke="#0a0a0a" stroke-width="5.4" stroke-linecap="butt"/>
<path d="M4477.5 1155V1057.0" fill="none" stroke="#0a0a0a" stroke-width="5.4" stroke-linecap="butt"/>
<g fill="none" stroke="#3dbcf1" stroke-width="1.6"><rect x="4420.8" y="1154.8" width="113.3" height="131.4"/><path d="M4534.1 1154.8L4420.8 1286.2" stroke-width="2"/><path d="M4431.8 1177.6h57.5m-57.5 9.3h57.5" stroke-width="2"/><path d="M4456.8 1258.8v-3a17.6 16 0 0 1 35.2 0a17.6 16 0 0 0 35.2 0v-5" stroke-width="2"/></g>
<path d="M3632.5 1489.8999999999999 V1602.5" fill="none" stroke="#0a0a0a" stroke-width="5.4" stroke-linecap="butt"/>
<rect x="3627.2" y="1601.5" width="10.5" height="10" fill="#0a0a0a"/>
<path d="M3616.5 1605.5L3632.5 1634.0" fill="none" stroke="#0a0a0a" stroke-width="4.4" stroke-linecap="round"/>
<path d="M3632.5 1633.0V1713.0" fill="none" stroke="#0a0a0a" stroke-width="5.4" stroke-linecap="butt"/>
<path d="M4177.0 1489.8999999999999 V1595.5" fill="none" stroke="#0a0a0a" stroke-width="5.4" stroke-linecap="butt"/>
<rect x="4171.8" y="1594.5" width="10.5" height="10" fill="#0a0a0a"/>
<path d="M4161.0 1598.5L4177.0 1632.6" fill="none" stroke="#0a0a0a" stroke-width="4.4" stroke-linecap="round"/>
<path d="M4177.0 1631.6V1690.0" fill="none" stroke="#0a0a0a" stroke-width="5.4" stroke-linecap="butt"/>
<path d="M4667.5 1489.8999999999999 V1602.5" fill="none" stroke="#0a0a0a" stroke-width="5.4" stroke-linecap="butt"/>
<rect x="4662.2" y="1601.5" width="10.5" height="10" fill="#0a0a0a"/>
<path d="M4651.5 1605.5L4667.5 1637.0" fill="none" stroke="#0a0a0a" stroke-width="4.4" stroke-linecap="round"/>
<path d="M4667.5 1636.0V1688.0" fill="none" stroke="#0a0a0a" stroke-width="5.4" stroke-linecap="butt"/>
<text class="s" x="3211.5" y="1389.3" font-size="32" font-weight="bold" textLength="190" lengthAdjust="spacingAndGlyphs" fill="#000">10KV/0.4KV</text>
<text class="sf" x="3285.5" y="1629" font-size="31.2" font-weight="bold" fill="#000">变压器</text>
<text class="s" x="3426" y="1588" font-size="29" font-weight="bold" textLength="75" lengthAdjust="spacingAndGlyphs" fill="#000">380V</text>
<text class="sf" x="3503.4" y="1588" font-size="31.6" font-weight="bold" fill="#000">开关柜</text>
<text class="sf" x="2934" y="1718" font-size="31.2" font-weight="bold" fill="#000">电网</text>
<text class="sf" x="3612.5" y="865.5" font-size="31.6" font-weight="bold" fill="#000">光伏发电系统</text>
<text class="sf" x="4247.5" y="870.5" font-size="31.4" font-weight="bold" fill="#000">储能系统</text>
<text class="sf" x="3556.5" y="2000" font-size="31.2" font-weight="bold" fill="#000">充电站</text>
<text class="sf" x="4120" y="2015" font-size="31.6" font-weight="bold" fill="#000">写字楼</text>
<text class="sf" x="4599.5" y="2015" font-size="31.2" font-weight="bold" fill="#000">商业楼宇</text>
<text class="s" x="389" y="2355" font-size="45.8" font-weight="bold" fill="#2f4fa3">系统组成：</text>
<text class="s" x="466" y="2431" font-size="37.5" textLength="1491" lengthAdjust="spacing" fill="#333">典型的储能系统主要由储能电池组、BMS系统、储能变流器、中央控制系统及能量管理系</text>
<text class="s" x="390" y="2491.5" font-size="37.5" fill="#333">统组成。</text>
<text class="s" x="389" y="2600" font-size="45.8" font-weight="bold" fill="#2f4fa3">系统特点：</text>
<circle cx="427.3" cy="2661.0" r="4.9" fill="#2f4fa3"/>
<text class="s" x="462.5" y="2675" font-size="37.5" fill="#333">能量管理系统根据电价时段对储能系统进行段削峰填谷、电力调频等控制；</text>
<circle cx="427.3" cy="2721.5" r="4.9" fill="#2f4fa3"/>
<text class="s" x="462.5" y="2735.5" font-size="37.5" fill="#333">系统总体设计为集装箱型，可容易整体更换和移走；</text>
<circle cx="427.3" cy="2782.0" r="4.9" fill="#2f4fa3"/>
<text class="s" x="462.5" y="2796" font-size="37.5" textLength="1213" lengthAdjust="spacing" fill="#333">电池管理采用先进的BMS管理，可实现储能系统的功率和电量准确测量。</text>
<text class="s" x="389" y="2906" font-size="45.8" font-weight="bold" fill="#2f4fa3">系统功能：</text>
<circle cx="427.3" cy="2964.0" r="4.9" fill="#2f4fa3"/>
<text class="s" x="462.5" y="2978" font-size="37.5" fill="#333">储能电站削峰填谷、电力调频；</text>
<circle cx="427.3" cy="3024.5" r="4.9" fill="#2f4fa3"/>
<text class="s" x="462.5" y="3038.5" font-size="37.5" fill="#333">具备应急电源功能；</text>
<circle cx="427.3" cy="3085.0" r="4.9" fill="#2f4fa3"/>
<text class="s" x="462.5" y="3099" font-size="37.5" fill="#333">系统具备完善的通讯、监测、告警和保护功能。</text>
<text class="s" x="3066" y="2355" font-size="45.8" font-weight="bold" fill="#2f4fa3">系统组成：</text>
<text class="s" x="3143" y="2431" font-size="37.5" textLength="1491" lengthAdjust="spacing" fill="#333">典型的储能系统主要由储能电池组、BMS系统、储能变流器、中央控制系统及能量管理系</text>
<text class="s" x="3067" y="2491.5" font-size="37.5" fill="#333">统组成。</text>
<text class="s" x="3066" y="2628" font-size="45.8" font-weight="bold" fill="#2f4fa3">系统特点：</text>
<circle cx="3104.3" cy="2689.0" r="4.9" fill="#2f4fa3"/>
<text class="s" x="3139.5" y="2703" font-size="37.5" fill="#333">通过<tspan class="q">“</tspan>削峰填谷<tspan class="q">”</tspan>，降低用电费用；</text>
<circle cx="3104.3" cy="2749.5" r="4.9" fill="#2f4fa3"/>
<text class="s" x="3139.5" y="2763.5" font-size="37.5" fill="#333">降低用电容量，延缓电力扩容；</text>
<circle cx="3104.3" cy="2810.0" r="4.9" fill="#2f4fa3"/>
<text class="s" x="3139.5" y="2824" font-size="37.5" fill="#333">可作为应急后备电源，提高用能可靠性；</text>
<text class="s" x="1008.3" y="2159.6" font-size="37.6" font-weight="bold" fill="#4a4646">电网侧储能电站拓扑图</text>
<text class="s" x="3540.2" y="2159.6" font-size="37.6" font-weight="bold" fill="#4a4646">工商业集装箱储能系统拓扑图</text>
</svg>
</body></html>
